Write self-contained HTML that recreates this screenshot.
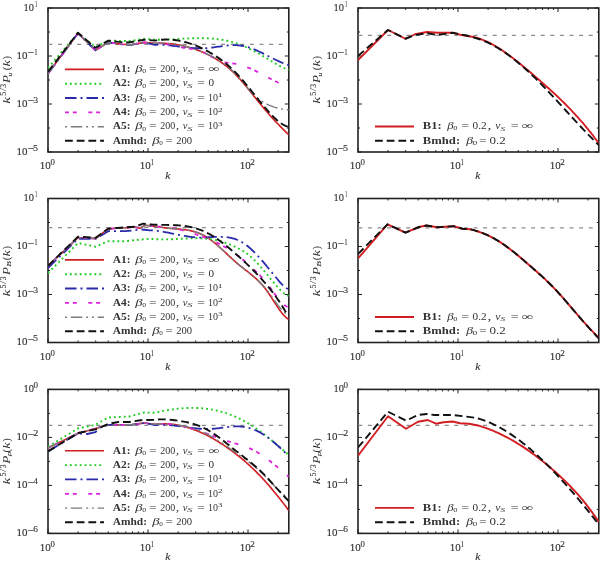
<!DOCTYPE html><html><head><meta charset="utf-8"><style>
html,body{margin:0;padding:0;background:#fff;width:600px;height:563px;overflow:hidden}
svg{display:block;will-change:transform}
text{font-family:"Liberation Serif",serif;fill:#333333}
.tl{font-size:10px}
.ml{font-size:10.5px;font-style:italic}
.lb{font-size:9px;font-weight:bold;fill:#222;letter-spacing:0.6px}
.lm{font-size:9.5px;font-style:italic;fill:#555}
.lr{font-size:9.5px;fill:#444}
.ls{font-size:6.5px;fill:#555}
</style></head><body>
<svg width="600" height="563" viewBox="0 0 600 563">
<path d="M48,152 v-4 M48,8 v4 M78.1,152 v-2 M78.1,8 v2 M95.71,152 v-2 M95.71,8 v2 M108.21,152 v-2 M108.21,8 v2 M117.9,152 v-2 M117.9,8 v2 M125.82,152 v-2 M125.82,8 v2 M132.51,152 v-2 M132.51,8 v2 M138.31,152 v-2 M138.31,8 v2 M143.42,152 v-2 M143.42,8 v2 M148,152 v-4 M148,8 v4 M178.1,152 v-2 M178.1,8 v2 M195.71,152 v-2 M195.71,8 v2 M208.21,152 v-2 M208.21,8 v2 M217.9,152 v-2 M217.9,8 v2 M225.82,152 v-2 M225.82,8 v2 M232.51,152 v-2 M232.51,8 v2 M238.31,152 v-2 M238.31,8 v2 M243.42,152 v-2 M243.42,8 v2 M248,152 v-4 M248,8 v4 M278.1,152 v-2 M278.1,8 v2 M48,8 h4 M288.8,8 h-4 M48,32 h2 M288.8,32 h-2 M48,56 h4 M288.8,56 h-4 M48,80 h2 M288.8,80 h-2 M48,104 h4 M288.8,104 h-4 M48,128 h2 M288.8,128 h-2 M48,152 h4 M288.8,152 h-4" stroke="#222222" stroke-width="1" fill="none"/>
<rect x="48" y="8" width="240.8" height="144" fill="none" stroke="#222222" stroke-width="1.6"/>
<text x="39.77" y="169.3" font-size="10.2" fill="#333333" stroke="#333333" stroke-width="0.12" textLength="10.97" lengthAdjust="spacingAndGlyphs">10</text>
<text x="50.45" y="165.3" font-size="7.4" fill="#333333" stroke="#333333" stroke-width="0.1" textLength="4.4" lengthAdjust="spacingAndGlyphs">0</text>
<text x="139.77" y="169.3" font-size="10.2" fill="#333333" stroke="#333333" stroke-width="0.12" textLength="10.97" lengthAdjust="spacingAndGlyphs">10</text>
<text x="150.85" y="165.3" font-size="7.4" fill="#333333" stroke="#333333" stroke-width="0.1" textLength="3.24" lengthAdjust="spacingAndGlyphs">1</text>
<text x="239.77" y="169.3" font-size="10.2" fill="#333333" stroke="#333333" stroke-width="0.12" textLength="10.97" lengthAdjust="spacingAndGlyphs">10</text>
<text x="250.38" y="165.3" font-size="7.4" fill="#333333" stroke="#333333" stroke-width="0.1" textLength="4.62" lengthAdjust="spacingAndGlyphs">2</text>
<text x="165.25" y="179" font-size="9.8" font-style="italic" fill="#333333" stroke="#333333" stroke-width="0.1" textLength="5.16" lengthAdjust="spacingAndGlyphs">k</text>
<text x="23.52" y="10.7" font-size="10.2" fill="#333333" stroke="#333333" stroke-width="0.12" textLength="10.4" lengthAdjust="spacingAndGlyphs">10</text>
<text x="34.92" y="6.7" font-size="7.2" fill="#333333" stroke="#333333" stroke-width="0.1" textLength="2.25" lengthAdjust="spacingAndGlyphs">1</text>
<text x="16.57" y="58.8" font-size="10.2" fill="#333333" stroke="#333333" stroke-width="0.12" textLength="10.97" lengthAdjust="spacingAndGlyphs">10</text>
<text x="27.55" y="55.4" font-size="7.2" fill="#333333" stroke="#333333" stroke-width="0.3" textLength="6.19" lengthAdjust="spacingAndGlyphs">&#8722;</text>
<text x="34.23" y="54.9" font-size="7.2" fill="#333333" stroke="#333333" stroke-width="0.1" textLength="3.38" lengthAdjust="spacingAndGlyphs">1</text>
<text x="16.57" y="106.8" font-size="10.2" fill="#333333" stroke="#333333" stroke-width="0.12" textLength="10.97" lengthAdjust="spacingAndGlyphs">10</text>
<text x="27.55" y="103.4" font-size="7.2" fill="#333333" stroke="#333333" stroke-width="0.3" textLength="6.19" lengthAdjust="spacingAndGlyphs">&#8722;</text>
<text x="33.27" y="102.9" font-size="7.2" fill="#333333" stroke="#333333" stroke-width="0.1" textLength="4.82" lengthAdjust="spacingAndGlyphs">3</text>
<text x="16.57" y="154.8" font-size="10.2" fill="#333333" stroke="#333333" stroke-width="0.12" textLength="10.97" lengthAdjust="spacingAndGlyphs">10</text>
<text x="27.55" y="151.4" font-size="7.2" fill="#333333" stroke="#333333" stroke-width="0.3" textLength="6.19" lengthAdjust="spacingAndGlyphs">&#8722;</text>
<text x="33.1" y="150.9" font-size="7.2" fill="#333333" stroke="#333333" stroke-width="0.1" textLength="5" lengthAdjust="spacingAndGlyphs">5</text>
<text transform="translate(10,80) rotate(-90)" x="-23.76" y="0" font-size="9.4" font-style="italic" fill="#333333" textLength="6.81" lengthAdjust="spacingAndGlyphs">k</text>
<text transform="translate(10,80) rotate(-90)" x="-15.78" y="-3.6" font-size="7.2" fill="#333333" stroke="#333333" stroke-width="0.1" textLength="4" lengthAdjust="spacingAndGlyphs">5</text>
<text transform="translate(10,80) rotate(-90)" x="-11.3" y="-3.6" font-size="7.2" fill="#333333" stroke="#333333" stroke-width="0.05" textLength="3.23" lengthAdjust="spacingAndGlyphs">/</text>
<text transform="translate(10,80) rotate(-90)" x="-7.65" y="-3.6" font-size="7.2" fill="#333333" stroke="#333333" stroke-width="0.1" textLength="3.86" lengthAdjust="spacingAndGlyphs">3</text>
<text transform="translate(10,80) rotate(-90)" x="-2.93" y="0" font-size="9.4" font-style="italic" fill="#333333" textLength="7.97" lengthAdjust="spacingAndGlyphs">P</text>
<text transform="translate(10,80) rotate(-90)" x="3.51" y="1.7" font-size="6" font-style="italic" fill="#333333" stroke="#333333" stroke-width="0.1" textLength="3.86" lengthAdjust="spacingAndGlyphs">u</text>
<text transform="translate(10,80) rotate(-90)" x="9.81" y="0" font-size="9.6" fill="#333333" textLength="3.66" lengthAdjust="spacingAndGlyphs">(</text>
<text transform="translate(10,80) rotate(-90)" x="13.47" y="0" font-size="9.4" font-style="italic" fill="#333333" textLength="6.4" lengthAdjust="spacingAndGlyphs">k</text>
<text transform="translate(10,80) rotate(-90)" x="20.48" y="0" font-size="9.6" fill="#333333" textLength="3.59" lengthAdjust="spacingAndGlyphs">)</text>
<path d="M48.3,44.4 H287.8" stroke="#8c8c8c" stroke-width="1.3" stroke-dasharray="4,5.6"/>
<clipPath id="cp0"><rect x="48" y="8" width="240.8" height="144"/></clipPath>
<g clip-path="url(#cp0)">
<path d="M48,73.6 L78,33.3 L95.5,50.3 L108.3,42.4 L122,44.3 L131.2,44.8 L144,42.4 L155,43.3 L156.5,43.26 L158,43.24 L159.5,43.23 L161,43.25 L162.5,43.28 L164,43.34 L165.5,43.41 L167,43.51 L168.5,43.62 L170,43.75 L171.5,43.91 L173,44.08 L174.5,44.28 L176,44.5 L177.5,44.74 L179,45 L180.5,45.28 L182,45.59 L183.5,45.91 L185,46.26 L186.5,46.63 L188,47.03 L189.5,47.45 L191,47.89 L192.5,48.35 L194,48.84 L195.5,49.36 L197,49.89 L198.5,50.45 L200,51.04 L201.5,51.65 L203,52.29 L204.5,52.95 L206,53.64 L207.5,54.35 L209,55.1 L210.5,55.87 L212,56.67 L213.5,57.5 L215,58.37 L216.5,59.27 L218,60.21 L219.5,61.19 L221,62.21 L222.5,63.27 L224,64.37 L225.5,65.52 L227,66.71 L228.5,67.95 L230,69.24 L231.5,70.58 L233,71.98 L234.5,73.42 L236,74.92 L237.5,76.48 L239,78.1 L240.5,79.77 L242,81.48 L243.5,83.24 L245,85.03 L246.5,86.85 L248,88.69 L249.5,90.56 L251,92.43 L252.5,94.31 L254,96.18 L255.5,98.06 L257,99.92 L258.5,101.77 L260,103.6 L261.5,105.42 L263,107.22 L264.5,109.01 L266,110.77 L267.5,112.52 L269,114.24 L270.5,115.94 L272,117.61 L273.5,119.26 L275,120.88 L276.5,122.48 L278,124.06 L279.5,125.61 L281,127.15 L282.5,128.66 L284,130.15 L285.5,131.63 L287,133.08 L288.5,134.52 L288.8,134.81" fill="none" stroke="#d21e23" stroke-width="1.6" stroke-linecap="butt" stroke-linejoin="round"/>
<path d="M48,68 L78,33.3 L95.5,47 L108.3,40.6 L122,41 L131,41 L144,38.8 L155,39.7 L156.5,39.7 L158,39.69 L159.5,39.68 L161,39.65 L162.5,39.62 L164,39.58 L165.5,39.53 L167,39.47 L168.5,39.41 L170,39.34 L171.5,39.27 L173,39.19 L174.5,39.12 L176,39.04 L177.5,38.96 L179,38.88 L180.5,38.8 L182,38.72 L183.5,38.64 L185,38.57 L186.5,38.5 L188,38.43 L189.5,38.37 L191,38.31 L192.5,38.27 L194,38.22 L195.5,38.19 L197,38.17 L198.5,38.15 L200,38.15 L201.5,38.16 L203,38.18 L204.5,38.21 L206,38.25 L207.5,38.31 L209,38.39 L210.5,38.48 L212,38.59 L213.5,38.71 L215,38.85 L216.5,39.02 L218,39.2 L219.5,39.4 L221,39.62 L222.5,39.87 L224,40.14 L225.5,40.43 L227,40.75 L228.5,41.09 L230,41.45 L231.5,41.85 L233,42.27 L234.5,42.72 L236,43.2 L237.5,43.7 L239,44.24 L240.5,44.81 L242,45.4 L243.5,46.03 L245,46.68 L246.5,47.35 L248,48.05 L249.5,48.77 L251,49.51 L252.5,50.28 L254,51.06 L255.5,51.86 L257,52.68 L258.5,53.52 L260,54.37 L261.5,55.23 L263,56.11 L264.5,57 L266,57.9 L267.5,58.8 L269,59.72 L270.5,60.63 L272,61.54 L273.5,62.45 L275,63.34 L276.5,64.21 L278,65.06 L279.5,65.88 L281,66.67 L282.5,67.42 L284,68.13 L285.5,68.79 L287,69.41 L288.5,69.96 L288.8,70.07" fill="none" stroke="#22cc22" stroke-width="1.9" stroke-dasharray="1.9,3" stroke-linecap="butt" stroke-linejoin="round"/>
<path d="M48,73.6 L78,33.3 L95.5,50.3 L108.3,42.4 L122,44.3 L131.2,44.8 L144,42.4 L155,44.8 L156.5,44.73 L158,44.7 L159.5,44.7 L161,44.74 L162.5,44.8 L164,44.9 L165.5,45.01 L167,45.15 L168.5,45.3 L170,45.47 L171.5,45.65 L173,45.84 L174.5,46.03 L176,46.23 L177.5,46.43 L179,46.62 L180.5,46.81 L182,47 L183.5,47.18 L185,47.35 L186.5,47.51 L188,47.66 L189.5,47.8 L191,47.92 L192.5,48.03 L194,48.12 L195.5,48.2 L197,48.26 L198.5,48.29 L200,48.31 L201.5,48.3 L203,48.27 L204.5,48.21 L206,48.12 L207.5,48.01 L209,47.87 L210.5,47.71 L212,47.53 L213.5,47.34 L215,47.14 L216.5,46.94 L218,46.73 L219.5,46.52 L221,46.31 L222.5,46.11 L224,45.92 L225.5,45.75 L227,45.59 L228.5,45.45 L230,45.34 L231.5,45.26 L233,45.2 L234.5,45.19 L236,45.21 L237.5,45.27 L239,45.38 L240.5,45.54 L242,45.75 L243.5,46.01 L245,46.34 L246.5,46.71 L248,47.14 L249.5,47.61 L251,48.13 L252.5,48.69 L254,49.28 L255.5,49.91 L257,50.56 L258.5,51.24 L260,51.95 L261.5,52.67 L263,53.41 L264.5,54.16 L266,54.92 L267.5,55.69 L269,56.46 L270.5,57.23 L272,57.99 L273.5,58.74 L275,59.48 L276.5,60.21 L278,60.92 L279.5,61.6 L281,62.26 L282.5,62.89 L284,63.49 L285.5,64.06 L287,64.58 L288.5,65.06 L288.8,65.15" fill="none" stroke="#2a2aaa" stroke-width="1.8" stroke-dasharray="11.5,4,2,4" stroke-linecap="butt" stroke-linejoin="round"/>
<path d="M48,73.6 L78,33.3 L95.5,50.3 L108.3,42.4 L122,44.3 L131.2,44.8 L144,42.4 L155,43.3 L156.5,43.23 L158,43.23 L159.5,43.28 L161,43.39 L162.5,43.54 L164,43.74 L165.5,43.98 L167,44.24 L168.5,44.53 L170,44.85 L171.5,45.18 L173,45.52 L174.5,45.86 L176,46.21 L177.5,46.55 L179,46.88 L180.5,47.19 L182,47.48 L183.5,47.74 L185,47.98 L186.5,48.2 L188,48.4 L189.5,48.61 L191,48.82 L192.5,49.05 L194,49.32 L195.5,49.61 L197,49.96 L198.5,50.36 L200,50.84 L201.5,51.38 L203,52.02 L204.5,52.74 L206,53.55 L207.5,54.4 L209,55.27 L210.5,56.14 L212,56.98 L213.5,57.78 L215,58.52 L216.5,59.23 L218,59.88 L219.5,60.48 L221,61.03 L222.5,61.53 L224,61.96 L225.5,62.34 L227,62.66 L228.5,62.92 L230,63.13 L231.5,63.32 L233,63.51 L234.5,63.72 L236,63.97 L237.5,64.26 L239,64.61 L240.5,65 L242,65.43 L243.5,65.9 L245,66.42 L246.5,66.97 L248,67.55 L249.5,68.17 L251,68.81 L252.5,69.48 L254,70.18 L255.5,70.89 L257,71.63 L258.5,72.39 L260,73.15 L261.5,73.94 L263,74.73 L264.5,75.53 L266,76.33 L267.5,77.14 L269,77.94 L270.5,78.75 L272,79.54 L273.5,80.32 L275,81.07 L276.5,81.79 L278,82.47 L279.5,83.09 L281,83.66 L282.5,84.15 L284,84.57 L285.5,84.91 L287,85.14 L288.5,85.28 L288.8,85.3" fill="none" stroke="#dd22dd" stroke-width="1.8" stroke-dasharray="4,3.8,4,11.5" stroke-linecap="butt" stroke-linejoin="round"/>
<path d="M48,73.6 L78,33.3 L95.5,50.3 L108.3,42.4 L122,44.3 L131.2,44.8 L144,42.4 L155,43.3 L156.5,43.22 L158,43.16 L159.5,43.13 L161,43.12 L162.5,43.14 L164,43.18 L165.5,43.25 L167,43.34 L168.5,43.46 L170,43.6 L171.5,43.76 L173,43.94 L174.5,44.15 L176,44.38 L177.5,44.64 L179,44.92 L180.5,45.22 L182,45.54 L183.5,45.88 L185,46.25 L186.5,46.64 L188,47.04 L189.5,47.48 L191,47.93 L192.5,48.4 L194,48.89 L195.5,49.41 L197,49.94 L198.5,50.5 L200,51.07 L201.5,51.67 L203,52.28 L204.5,52.92 L206,53.57 L207.5,54.25 L209,54.94 L210.5,55.66 L212,56.41 L213.5,57.19 L215,58 L216.5,58.85 L218,59.74 L219.5,60.67 L221,61.64 L222.5,62.65 L224,63.72 L225.5,64.83 L227,66 L228.5,67.23 L230,68.52 L231.5,69.86 L233,71.27 L234.5,72.75 L236,74.3 L237.5,75.92 L239,77.61 L240.5,79.37 L242,81.16 L243.5,82.98 L245,84.8 L246.5,86.62 L248,88.41 L249.5,90.16 L251,91.84 L252.5,93.45 L254,94.96 L255.5,96.36 L257,97.65 L258.5,98.83 L260,99.92 L261.5,100.93 L263,101.87 L264.5,102.75 L266,103.57 L267.5,104.34 L269,105.05 L270.5,105.7 L272,106.3 L273.5,106.85 L275,107.35 L276.5,107.79 L278,108.2 L279.5,108.55 L281,108.86 L282.5,109.13 L284,109.36 L285.5,109.54 L287,109.69 L288.5,109.8 L288.8,109.81" fill="none" stroke="#7c7c7c" stroke-width="1.45" stroke-dasharray="11.5,3.8,2,3.8,2,3.8" stroke-linecap="butt" stroke-linejoin="round"/>
<path d="M48,71.8 L78,32.7 L95.5,47.9 L108.3,40.6 L118.4,41.9 L129.4,42.4 L144,39.7 L155,40.6 L156.5,40.35 L158,40.13 L159.5,39.95 L161,39.8 L162.5,39.69 L164,39.61 L165.5,39.57 L167,39.56 L168.5,39.58 L170,39.64 L171.5,39.73 L173,39.86 L174.5,40.01 L176,40.2 L177.5,40.43 L179,40.68 L180.5,40.96 L182,41.28 L183.5,41.62 L185,42 L186.5,42.41 L188,42.85 L189.5,43.31 L191,43.81 L192.5,44.34 L194,44.89 L195.5,45.47 L197,46.09 L198.5,46.72 L200,47.39 L201.5,48.09 L203,48.81 L204.5,49.56 L206,50.33 L207.5,51.13 L209,51.96 L210.5,52.82 L212,53.71 L213.5,54.63 L215,55.58 L216.5,56.57 L218,57.59 L219.5,58.64 L221,59.74 L222.5,60.87 L224,62.03 L225.5,63.24 L227,64.49 L228.5,65.79 L230,67.12 L231.5,68.5 L233,69.93 L234.5,71.4 L236,72.93 L237.5,74.5 L239,76.12 L240.5,77.78 L242,79.49 L243.5,81.24 L245,83.02 L246.5,84.82 L248,86.65 L249.5,88.5 L251,90.36 L252.5,92.23 L254,94.11 L255.5,95.98 L257,97.85 L258.5,99.72 L260,101.57 L261.5,103.4 L263,105.21 L264.5,106.99 L266,108.74 L267.5,110.46 L269,112.13 L270.5,113.76 L272,115.34 L273.5,116.86 L275,118.32 L276.5,119.71 L278,121.01 L279.5,122.21 L281,123.3 L282.5,124.28 L284,125.12 L285.5,125.82 L287,126.36 L288.5,126.74 L288.8,126.8" fill="none" stroke="#111111" stroke-width="1.9" stroke-dasharray="7.8,3.9" stroke-linecap="butt" stroke-linejoin="round"/>
</g>
<path d="M65,69.4 h39" fill="none" stroke="#d21e23" stroke-width="1.6"/>
<path d="M65,83.7 h39" fill="none" stroke="#22cc22" stroke-width="1.9" stroke-dasharray="1.9,3"/>
<path d="M65,98 h39" fill="none" stroke="#2a2aaa" stroke-width="1.8" stroke-dasharray="11.5,4,2,4"/>
<path d="M65,112.4 h39" fill="none" stroke="#dd22dd" stroke-width="1.8" stroke-dasharray="4,3.8,4,11.5"/>
<path d="M65,126.7 h39" fill="none" stroke="#7c7c7c" stroke-width="1.45" stroke-dasharray="11.5,3.8,2,3.8,2,3.8" stroke-dashoffset="21.1"/>
<path d="M65,140.8 h39" fill="none" stroke="#111111" stroke-width="1.9" stroke-dasharray="7.8,3.9"/>
<text x="112.79" y="72.1" font-size="9.7" font-weight="bold" fill="#2a2a2a" textLength="17.85" lengthAdjust="spacingAndGlyphs">A1:</text>
<text x="135.22" y="72.1" font-size="9.3" font-style="italic" fill="#6c6c6c" textLength="7.32" lengthAdjust="spacingAndGlyphs">&#946;</text>
<text x="142.19" y="73.3" font-size="6.3" fill="#505050" textLength="3.93" lengthAdjust="spacingAndGlyphs">0</text>
<text x="148.93" y="72.1" font-size="9.3" fill="#505050" textLength="7.52" lengthAdjust="spacingAndGlyphs">=</text>
<text x="160.35" y="72.1" font-size="9.3" fill="#505050" textLength="15.05" lengthAdjust="spacingAndGlyphs">200</text>
<text x="175.68" y="72.1" font-size="9.3" fill="#505050" textLength="3.53" lengthAdjust="spacingAndGlyphs">,</text>
<text x="182.74" y="72.1" font-size="9.3" font-style="italic" fill="#6c6c6c" textLength="4.75" lengthAdjust="spacingAndGlyphs">&#957;</text>
<text x="187.39" y="73.5" font-size="6.9" font-style="italic" fill="#606060" textLength="5.26" lengthAdjust="spacingAndGlyphs">S</text>
<text x="197.22" y="72.1" font-size="9.3" fill="#505050" textLength="7.64" lengthAdjust="spacingAndGlyphs">=</text>
<text x="208.2" y="72.1" font-size="9.9" fill="#505050" textLength="11.14" lengthAdjust="spacingAndGlyphs">&#8734;</text>
<text x="112.79" y="86.4" font-size="9.7" font-weight="bold" fill="#2a2a2a" textLength="17.85" lengthAdjust="spacingAndGlyphs">A2:</text>
<text x="135.22" y="86.4" font-size="9.3" font-style="italic" fill="#6c6c6c" textLength="7.32" lengthAdjust="spacingAndGlyphs">&#946;</text>
<text x="142.19" y="87.6" font-size="6.3" fill="#505050" textLength="3.93" lengthAdjust="spacingAndGlyphs">0</text>
<text x="148.93" y="86.4" font-size="9.3" fill="#505050" textLength="7.52" lengthAdjust="spacingAndGlyphs">=</text>
<text x="160.35" y="86.4" font-size="9.3" fill="#505050" textLength="15.05" lengthAdjust="spacingAndGlyphs">200</text>
<text x="175.68" y="86.4" font-size="9.3" fill="#505050" textLength="3.53" lengthAdjust="spacingAndGlyphs">,</text>
<text x="182.74" y="86.4" font-size="9.3" font-style="italic" fill="#6c6c6c" textLength="4.75" lengthAdjust="spacingAndGlyphs">&#957;</text>
<text x="187.39" y="87.8" font-size="6.9" font-style="italic" fill="#606060" textLength="5.26" lengthAdjust="spacingAndGlyphs">S</text>
<text x="197.22" y="86.4" font-size="9.3" fill="#505050" textLength="7.64" lengthAdjust="spacingAndGlyphs">=</text>
<text x="208.55" y="86.4" font-size="9.3" fill="#505050" textLength="5.6" lengthAdjust="spacingAndGlyphs">0</text>
<text x="112.79" y="100.7" font-size="9.7" font-weight="bold" fill="#2a2a2a" textLength="17.85" lengthAdjust="spacingAndGlyphs">A3:</text>
<text x="135.22" y="100.7" font-size="9.3" font-style="italic" fill="#6c6c6c" textLength="7.32" lengthAdjust="spacingAndGlyphs">&#946;</text>
<text x="142.19" y="101.9" font-size="6.3" fill="#505050" textLength="3.93" lengthAdjust="spacingAndGlyphs">0</text>
<text x="148.93" y="100.7" font-size="9.3" fill="#505050" textLength="7.52" lengthAdjust="spacingAndGlyphs">=</text>
<text x="160.35" y="100.7" font-size="9.3" fill="#505050" textLength="15.05" lengthAdjust="spacingAndGlyphs">200</text>
<text x="175.68" y="100.7" font-size="9.3" fill="#505050" textLength="3.53" lengthAdjust="spacingAndGlyphs">,</text>
<text x="182.74" y="100.7" font-size="9.3" font-style="italic" fill="#6c6c6c" textLength="4.75" lengthAdjust="spacingAndGlyphs">&#957;</text>
<text x="187.39" y="102.1" font-size="6.9" font-style="italic" fill="#606060" textLength="5.26" lengthAdjust="spacingAndGlyphs">S</text>
<text x="197.22" y="100.7" font-size="9.3" fill="#505050" textLength="7.64" lengthAdjust="spacingAndGlyphs">=</text>
<text x="207.9" y="100.7" font-size="9.3" fill="#505050" textLength="10" lengthAdjust="spacingAndGlyphs">10</text>
<text x="217.61" y="97.1" font-size="6.6" fill="#505050" textLength="5.21" lengthAdjust="spacingAndGlyphs">1</text>
<text x="112.79" y="115.1" font-size="9.7" font-weight="bold" fill="#2a2a2a" textLength="17.85" lengthAdjust="spacingAndGlyphs">A4:</text>
<text x="135.22" y="115.1" font-size="9.3" font-style="italic" fill="#6c6c6c" textLength="7.32" lengthAdjust="spacingAndGlyphs">&#946;</text>
<text x="142.19" y="116.3" font-size="6.3" fill="#505050" textLength="3.93" lengthAdjust="spacingAndGlyphs">0</text>
<text x="148.93" y="115.1" font-size="9.3" fill="#505050" textLength="7.52" lengthAdjust="spacingAndGlyphs">=</text>
<text x="160.35" y="115.1" font-size="9.3" fill="#505050" textLength="15.05" lengthAdjust="spacingAndGlyphs">200</text>
<text x="175.68" y="115.1" font-size="9.3" fill="#505050" textLength="3.53" lengthAdjust="spacingAndGlyphs">,</text>
<text x="182.74" y="115.1" font-size="9.3" font-style="italic" fill="#6c6c6c" textLength="4.75" lengthAdjust="spacingAndGlyphs">&#957;</text>
<text x="187.39" y="116.5" font-size="6.9" font-style="italic" fill="#606060" textLength="5.26" lengthAdjust="spacingAndGlyphs">S</text>
<text x="197.22" y="115.1" font-size="9.3" fill="#505050" textLength="7.64" lengthAdjust="spacingAndGlyphs">=</text>
<text x="207.9" y="115.1" font-size="9.3" fill="#505050" textLength="10" lengthAdjust="spacingAndGlyphs">10</text>
<text x="218.08" y="111.5" font-size="6.6" fill="#505050" textLength="4.62" lengthAdjust="spacingAndGlyphs">2</text>
<text x="112.79" y="129.4" font-size="9.7" font-weight="bold" fill="#2a2a2a" textLength="17.85" lengthAdjust="spacingAndGlyphs">A5:</text>
<text x="135.22" y="129.4" font-size="9.3" font-style="italic" fill="#6c6c6c" textLength="7.32" lengthAdjust="spacingAndGlyphs">&#946;</text>
<text x="142.19" y="130.6" font-size="6.3" fill="#505050" textLength="3.93" lengthAdjust="spacingAndGlyphs">0</text>
<text x="148.93" y="129.4" font-size="9.3" fill="#505050" textLength="7.52" lengthAdjust="spacingAndGlyphs">=</text>
<text x="160.35" y="129.4" font-size="9.3" fill="#505050" textLength="15.05" lengthAdjust="spacingAndGlyphs">200</text>
<text x="175.68" y="129.4" font-size="9.3" fill="#505050" textLength="3.53" lengthAdjust="spacingAndGlyphs">,</text>
<text x="182.74" y="129.4" font-size="9.3" font-style="italic" fill="#6c6c6c" textLength="4.75" lengthAdjust="spacingAndGlyphs">&#957;</text>
<text x="187.39" y="130.8" font-size="6.9" font-style="italic" fill="#606060" textLength="5.26" lengthAdjust="spacingAndGlyphs">S</text>
<text x="197.22" y="129.4" font-size="9.3" fill="#505050" textLength="7.64" lengthAdjust="spacingAndGlyphs">=</text>
<text x="207.9" y="129.4" font-size="9.3" fill="#505050" textLength="10" lengthAdjust="spacingAndGlyphs">10</text>
<text x="218.1" y="125.8" font-size="6.6" fill="#505050" textLength="4.46" lengthAdjust="spacingAndGlyphs">3</text>
<text x="112.79" y="143.5" font-size="9.7" font-weight="bold" fill="#2a2a2a" textLength="34.19" lengthAdjust="spacingAndGlyphs">Amhd:</text>
<text x="152.22" y="143.5" font-size="9.3" font-style="italic" fill="#6c6c6c" textLength="7.32" lengthAdjust="spacingAndGlyphs">&#946;</text>
<text x="159.21" y="144.7" font-size="6.3" fill="#505050" textLength="3.57" lengthAdjust="spacingAndGlyphs">0</text>
<text x="165.55" y="143.5" font-size="9.3" fill="#505050" textLength="7.28" lengthAdjust="spacingAndGlyphs">=</text>
<text x="176.22" y="143.5" font-size="9.3" fill="#505050" textLength="15.9" lengthAdjust="spacingAndGlyphs">200</text>
<path d="M358,152 v-4 M358,8 v4 M388.1,152 v-2 M388.1,8 v2 M405.71,152 v-2 M405.71,8 v2 M418.21,152 v-2 M418.21,8 v2 M427.9,152 v-2 M427.9,8 v2 M435.82,152 v-2 M435.82,8 v2 M442.51,152 v-2 M442.51,8 v2 M448.31,152 v-2 M448.31,8 v2 M453.42,152 v-2 M453.42,8 v2 M458,152 v-4 M458,8 v4 M488.1,152 v-2 M488.1,8 v2 M505.71,152 v-2 M505.71,8 v2 M518.21,152 v-2 M518.21,8 v2 M527.9,152 v-2 M527.9,8 v2 M535.82,152 v-2 M535.82,8 v2 M542.51,152 v-2 M542.51,8 v2 M548.31,152 v-2 M548.31,8 v2 M553.42,152 v-2 M553.42,8 v2 M558,152 v-4 M558,8 v4 M588.1,152 v-2 M588.1,8 v2 M358,8 h4 M598.8,8 h-4 M358,32 h2 M598.8,32 h-2 M358,56 h4 M598.8,56 h-4 M358,80 h2 M598.8,80 h-2 M358,104 h4 M598.8,104 h-4 M358,128 h2 M598.8,128 h-2 M358,152 h4 M598.8,152 h-4" stroke="#222222" stroke-width="1" fill="none"/>
<rect x="358" y="8" width="240.8" height="144" fill="none" stroke="#222222" stroke-width="1.6"/>
<text x="349.77" y="169.3" font-size="10.2" fill="#333333" stroke="#333333" stroke-width="0.12" textLength="10.97" lengthAdjust="spacingAndGlyphs">10</text>
<text x="360.45" y="165.3" font-size="7.4" fill="#333333" stroke="#333333" stroke-width="0.1" textLength="4.4" lengthAdjust="spacingAndGlyphs">0</text>
<text x="449.77" y="169.3" font-size="10.2" fill="#333333" stroke="#333333" stroke-width="0.12" textLength="10.97" lengthAdjust="spacingAndGlyphs">10</text>
<text x="460.85" y="165.3" font-size="7.4" fill="#333333" stroke="#333333" stroke-width="0.1" textLength="3.24" lengthAdjust="spacingAndGlyphs">1</text>
<text x="549.77" y="169.3" font-size="10.2" fill="#333333" stroke="#333333" stroke-width="0.12" textLength="10.97" lengthAdjust="spacingAndGlyphs">10</text>
<text x="560.38" y="165.3" font-size="7.4" fill="#333333" stroke="#333333" stroke-width="0.1" textLength="4.63" lengthAdjust="spacingAndGlyphs">2</text>
<text x="475.25" y="179" font-size="9.8" font-style="italic" fill="#333333" stroke="#333333" stroke-width="0.1" textLength="5.16" lengthAdjust="spacingAndGlyphs">k</text>
<text x="333.52" y="10.7" font-size="10.2" fill="#333333" stroke="#333333" stroke-width="0.12" textLength="10.4" lengthAdjust="spacingAndGlyphs">10</text>
<text x="344.92" y="6.7" font-size="7.2" fill="#333333" stroke="#333333" stroke-width="0.1" textLength="2.25" lengthAdjust="spacingAndGlyphs">1</text>
<text x="326.57" y="58.8" font-size="10.2" fill="#333333" stroke="#333333" stroke-width="0.12" textLength="10.97" lengthAdjust="spacingAndGlyphs">10</text>
<text x="337.55" y="55.4" font-size="7.2" fill="#333333" stroke="#333333" stroke-width="0.3" textLength="6.19" lengthAdjust="spacingAndGlyphs">&#8722;</text>
<text x="344.23" y="54.9" font-size="7.2" fill="#333333" stroke="#333333" stroke-width="0.1" textLength="3.38" lengthAdjust="spacingAndGlyphs">1</text>
<text x="326.57" y="106.8" font-size="10.2" fill="#333333" stroke="#333333" stroke-width="0.12" textLength="10.97" lengthAdjust="spacingAndGlyphs">10</text>
<text x="337.55" y="103.4" font-size="7.2" fill="#333333" stroke="#333333" stroke-width="0.3" textLength="6.19" lengthAdjust="spacingAndGlyphs">&#8722;</text>
<text x="343.27" y="102.9" font-size="7.2" fill="#333333" stroke="#333333" stroke-width="0.1" textLength="4.82" lengthAdjust="spacingAndGlyphs">3</text>
<text x="326.57" y="154.8" font-size="10.2" fill="#333333" stroke="#333333" stroke-width="0.12" textLength="10.97" lengthAdjust="spacingAndGlyphs">10</text>
<text x="337.55" y="151.4" font-size="7.2" fill="#333333" stroke="#333333" stroke-width="0.3" textLength="6.19" lengthAdjust="spacingAndGlyphs">&#8722;</text>
<text x="343.1" y="150.9" font-size="7.2" fill="#333333" stroke="#333333" stroke-width="0.1" textLength="5" lengthAdjust="spacingAndGlyphs">5</text>
<text transform="translate(320,80) rotate(-90)" x="-23.76" y="0" font-size="9.4" font-style="italic" fill="#333333" textLength="6.81" lengthAdjust="spacingAndGlyphs">k</text>
<text transform="translate(320,80) rotate(-90)" x="-15.78" y="-3.6" font-size="7.2" fill="#333333" stroke="#333333" stroke-width="0.1" textLength="4" lengthAdjust="spacingAndGlyphs">5</text>
<text transform="translate(320,80) rotate(-90)" x="-11.3" y="-3.6" font-size="7.2" fill="#333333" stroke="#333333" stroke-width="0.05" textLength="3.23" lengthAdjust="spacingAndGlyphs">/</text>
<text transform="translate(320,80) rotate(-90)" x="-7.65" y="-3.6" font-size="7.2" fill="#333333" stroke="#333333" stroke-width="0.1" textLength="3.86" lengthAdjust="spacingAndGlyphs">3</text>
<text transform="translate(320,80) rotate(-90)" x="-2.93" y="0" font-size="9.4" font-style="italic" fill="#333333" textLength="7.97" lengthAdjust="spacingAndGlyphs">P</text>
<text transform="translate(320,80) rotate(-90)" x="3.51" y="1.7" font-size="6" font-style="italic" fill="#333333" stroke="#333333" stroke-width="0.1" textLength="3.86" lengthAdjust="spacingAndGlyphs">u</text>
<text transform="translate(320,80) rotate(-90)" x="9.81" y="0" font-size="9.6" fill="#333333" textLength="3.66" lengthAdjust="spacingAndGlyphs">(</text>
<text transform="translate(320,80) rotate(-90)" x="13.47" y="0" font-size="9.4" font-style="italic" fill="#333333" textLength="6.4" lengthAdjust="spacingAndGlyphs">k</text>
<text transform="translate(320,80) rotate(-90)" x="20.48" y="0" font-size="9.6" fill="#333333" textLength="3.59" lengthAdjust="spacingAndGlyphs">)</text>
<path d="M358.3,35.3 H597.8" stroke="#8c8c8c" stroke-width="1.3" stroke-dasharray="4,5.6"/>
<clipPath id="cp1"><rect x="358" y="8" width="240.8" height="144"/></clipPath>
<g clip-path="url(#cp1)">
<path d="M358,60.2 L388,30 L405.5,38.75 L415,34.25 L427,32 L437.5,32.75 L452.5,32.75 L460,34.7 L470.5,36.5 L472,36.74 L473.5,37.04 L475,37.38 L476.5,37.77 L478,38.2 L479.5,38.68 L481,39.21 L482.5,39.77 L484,40.38 L485.5,41.02 L487,41.7 L488.5,42.42 L490,43.18 L491.5,43.96 L493,44.78 L494.5,45.63 L496,46.52 L497.5,47.42 L499,48.36 L500.5,49.32 L502,50.31 L503.5,51.32 L505,52.35 L506.5,53.41 L508,54.49 L509.5,55.59 L511,56.7 L512.5,57.84 L514,58.99 L515.5,60.16 L517,61.35 L518.5,62.55 L520,63.76 L521.5,64.99 L523,66.22 L524.5,67.47 L526,68.73 L527.5,70 L529,71.27 L530.5,72.55 L532,73.84 L533.5,75.13 L535,76.43 L536.5,77.72 L538,79.03 L539.5,80.33 L541,81.64 L542.5,82.95 L544,84.26 L545.5,85.59 L547,86.92 L548.5,88.26 L550,89.6 L551.5,90.96 L553,92.33 L554.5,93.71 L556,95.1 L557.5,96.51 L559,97.93 L560.5,99.37 L562,100.83 L563.5,102.3 L565,103.79 L566.5,105.3 L568,106.82 L569.5,108.37 L571,109.94 L572.5,111.53 L574,113.14 L575.5,114.77 L577,116.42 L578.5,118.09 L580,119.78 L581.5,121.5 L583,123.24 L584.5,125.01 L586,126.8 L587.5,128.63 L589,130.48 L590.5,132.36 L592,134.28 L593.5,136.22 L595,138.2 L596.5,140.22 L598,142.27 L598.8,143.38" fill="none" stroke="#d21e23" stroke-width="1.9" stroke-linecap="butt" stroke-linejoin="round"/>
<path d="M358,56 L388,30 L405.5,38.75 L415,35 L427,33.2 L437.5,35 L452.5,32.75 L467.5,35.75 L478,38.75 L479.5,39.24 L481,39.77 L482.5,40.33 L484,40.93 L485.5,41.56 L487,42.22 L488.5,42.92 L490,43.64 L491.5,44.4 L493,45.19 L494.5,46.02 L496,46.87 L497.5,47.75 L499,48.66 L500.5,49.6 L502,50.57 L503.5,51.56 L505,52.58 L506.5,53.63 L508,54.71 L509.5,55.81 L511,56.93 L512.5,58.08 L514,59.25 L515.5,60.45 L517,61.67 L518.5,62.92 L520,64.18 L521.5,65.47 L523,66.78 L524.5,68.1 L526,69.45 L527.5,70.82 L529,72.21 L530.5,73.61 L532,75.04 L533.5,76.48 L535,77.94 L536.5,79.41 L538,80.9 L539.5,82.41 L541,83.93 L542.5,85.47 L544,87.02 L545.5,88.58 L547,90.15 L548.5,91.73 L550,93.33 L551.5,94.93 L553,96.54 L554.5,98.16 L556,99.78 L557.5,101.41 L559,103.05 L560.5,104.69 L562,106.33 L563.5,107.97 L565,109.61 L566.5,111.26 L568,112.9 L569.5,114.54 L571,116.18 L572.5,117.82 L574,119.45 L575.5,121.07 L577,122.69 L578.5,124.31 L580,125.91 L581.5,127.51 L583,129.1 L584.5,130.67 L586,132.24 L587.5,133.79 L589,135.33 L590.5,136.86 L592,138.37 L593.5,139.87 L595,141.34 L596.5,142.81 L598,144.25 L598.8,145.01" fill="none" stroke="#111111" stroke-width="1.9" stroke-dasharray="7.8,3.9" stroke-linecap="butt" stroke-linejoin="round"/>
</g>
<path d="M375,126.5 h39" fill="none" stroke="#d21e23" stroke-width="1.9"/>
<path d="M375,140.8 h39" fill="none" stroke="#111111" stroke-width="1.9" stroke-dasharray="7.8,3.9"/>
<text x="422.81" y="129.2" font-size="9.7" font-weight="bold" fill="#2a2a2a" textLength="18.82" lengthAdjust="spacingAndGlyphs">B1:</text>
<text x="447.19" y="129.2" font-size="9.3" font-style="italic" fill="#6c6c6c" textLength="6.35" lengthAdjust="spacingAndGlyphs">&#946;</text>
<text x="453.17" y="130.4" font-size="6.3" fill="#505050" textLength="4.17" lengthAdjust="spacingAndGlyphs">0</text>
<text x="461.3" y="129.2" font-size="9.3" fill="#505050" textLength="7.88" lengthAdjust="spacingAndGlyphs">=</text>
<text x="472.55" y="129.2" font-size="9.3" fill="#505050" textLength="14.07" lengthAdjust="spacingAndGlyphs">0.2</text>
<text x="487.31" y="129.2" font-size="9.3" fill="#505050" textLength="4.31" lengthAdjust="spacingAndGlyphs">,</text>
<text x="495.33" y="129.2" font-size="9.3" font-style="italic" fill="#6c6c6c" textLength="5.16" lengthAdjust="spacingAndGlyphs">&#957;</text>
<text x="500.41" y="130.6" font-size="6.9" font-style="italic" fill="#606060" textLength="4.74" lengthAdjust="spacingAndGlyphs">S</text>
<text x="510.8" y="129.2" font-size="9.3" fill="#505050" textLength="7.88" lengthAdjust="spacingAndGlyphs">=</text>
<text x="521.43" y="129.2" font-size="9.9" fill="#505050" textLength="11.7" lengthAdjust="spacingAndGlyphs">&#8734;</text>
<text x="422.81" y="143.5" font-size="9.7" font-weight="bold" fill="#2a2a2a" textLength="37.34" lengthAdjust="spacingAndGlyphs">Bmhd:</text>
<text x="466.21" y="143.5" font-size="9.3" font-style="italic" fill="#6c6c6c" textLength="6.84" lengthAdjust="spacingAndGlyphs">&#946;</text>
<text x="472.62" y="144.7" font-size="6.3" fill="#505050" textLength="4.76" lengthAdjust="spacingAndGlyphs">0</text>
<text x="479.35" y="143.5" font-size="9.3" fill="#505050" textLength="7.28" lengthAdjust="spacingAndGlyphs">=</text>
<text x="489.48" y="143.5" font-size="9.3" fill="#505050" textLength="16.23" lengthAdjust="spacingAndGlyphs">0.2</text>
<path d="M48,342.5 v-4 M48,198.5 v4 M78.1,342.5 v-2 M78.1,198.5 v2 M95.71,342.5 v-2 M95.71,198.5 v2 M108.21,342.5 v-2 M108.21,198.5 v2 M117.9,342.5 v-2 M117.9,198.5 v2 M125.82,342.5 v-2 M125.82,198.5 v2 M132.51,342.5 v-2 M132.51,198.5 v2 M138.31,342.5 v-2 M138.31,198.5 v2 M143.42,342.5 v-2 M143.42,198.5 v2 M148,342.5 v-4 M148,198.5 v4 M178.1,342.5 v-2 M178.1,198.5 v2 M195.71,342.5 v-2 M195.71,198.5 v2 M208.21,342.5 v-2 M208.21,198.5 v2 M217.9,342.5 v-2 M217.9,198.5 v2 M225.82,342.5 v-2 M225.82,198.5 v2 M232.51,342.5 v-2 M232.51,198.5 v2 M238.31,342.5 v-2 M238.31,198.5 v2 M243.42,342.5 v-2 M243.42,198.5 v2 M248,342.5 v-4 M248,198.5 v4 M278.1,342.5 v-2 M278.1,198.5 v2 M48,198.5 h4 M288.8,198.5 h-4 M48,222.5 h2 M288.8,222.5 h-2 M48,246.5 h4 M288.8,246.5 h-4 M48,270.5 h2 M288.8,270.5 h-2 M48,294.5 h4 M288.8,294.5 h-4 M48,318.5 h2 M288.8,318.5 h-2 M48,342.5 h4 M288.8,342.5 h-4" stroke="#222222" stroke-width="1" fill="none"/>
<rect x="48" y="198.5" width="240.8" height="144" fill="none" stroke="#222222" stroke-width="1.6"/>
<text x="39.77" y="359.8" font-size="10.2" fill="#333333" stroke="#333333" stroke-width="0.12" textLength="10.97" lengthAdjust="spacingAndGlyphs">10</text>
<text x="50.45" y="355.8" font-size="7.4" fill="#333333" stroke="#333333" stroke-width="0.1" textLength="4.4" lengthAdjust="spacingAndGlyphs">0</text>
<text x="139.77" y="359.8" font-size="10.2" fill="#333333" stroke="#333333" stroke-width="0.12" textLength="10.97" lengthAdjust="spacingAndGlyphs">10</text>
<text x="150.85" y="355.8" font-size="7.4" fill="#333333" stroke="#333333" stroke-width="0.1" textLength="3.24" lengthAdjust="spacingAndGlyphs">1</text>
<text x="239.77" y="359.8" font-size="10.2" fill="#333333" stroke="#333333" stroke-width="0.12" textLength="10.97" lengthAdjust="spacingAndGlyphs">10</text>
<text x="250.38" y="355.8" font-size="7.4" fill="#333333" stroke="#333333" stroke-width="0.1" textLength="4.62" lengthAdjust="spacingAndGlyphs">2</text>
<text x="165.25" y="369.5" font-size="9.8" font-style="italic" fill="#333333" stroke="#333333" stroke-width="0.1" textLength="5.16" lengthAdjust="spacingAndGlyphs">k</text>
<text x="23.52" y="201.2" font-size="10.2" fill="#333333" stroke="#333333" stroke-width="0.12" textLength="10.4" lengthAdjust="spacingAndGlyphs">10</text>
<text x="34.92" y="197.2" font-size="7.2" fill="#333333" stroke="#333333" stroke-width="0.1" textLength="2.25" lengthAdjust="spacingAndGlyphs">1</text>
<text x="16.57" y="249.3" font-size="10.2" fill="#333333" stroke="#333333" stroke-width="0.12" textLength="10.97" lengthAdjust="spacingAndGlyphs">10</text>
<text x="27.55" y="245.9" font-size="7.2" fill="#333333" stroke="#333333" stroke-width="0.3" textLength="6.19" lengthAdjust="spacingAndGlyphs">&#8722;</text>
<text x="34.23" y="245.4" font-size="7.2" fill="#333333" stroke="#333333" stroke-width="0.1" textLength="3.38" lengthAdjust="spacingAndGlyphs">1</text>
<text x="16.57" y="297.3" font-size="10.2" fill="#333333" stroke="#333333" stroke-width="0.12" textLength="10.97" lengthAdjust="spacingAndGlyphs">10</text>
<text x="27.55" y="293.9" font-size="7.2" fill="#333333" stroke="#333333" stroke-width="0.3" textLength="6.19" lengthAdjust="spacingAndGlyphs">&#8722;</text>
<text x="33.27" y="293.4" font-size="7.2" fill="#333333" stroke="#333333" stroke-width="0.1" textLength="4.82" lengthAdjust="spacingAndGlyphs">3</text>
<text x="16.57" y="345.3" font-size="10.2" fill="#333333" stroke="#333333" stroke-width="0.12" textLength="10.97" lengthAdjust="spacingAndGlyphs">10</text>
<text x="27.55" y="341.9" font-size="7.2" fill="#333333" stroke="#333333" stroke-width="0.3" textLength="6.19" lengthAdjust="spacingAndGlyphs">&#8722;</text>
<text x="33.1" y="341.4" font-size="7.2" fill="#333333" stroke="#333333" stroke-width="0.1" textLength="5" lengthAdjust="spacingAndGlyphs">5</text>
<text transform="translate(10,270.5) rotate(-90)" x="-25.96" y="0" font-size="9.4" font-style="italic" fill="#333333" textLength="6.81" lengthAdjust="spacingAndGlyphs">k</text>
<text transform="translate(10,270.5) rotate(-90)" x="-17.98" y="-3.6" font-size="7.2" fill="#333333" stroke="#333333" stroke-width="0.1" textLength="4" lengthAdjust="spacingAndGlyphs">5</text>
<text transform="translate(10,270.5) rotate(-90)" x="-13.5" y="-3.6" font-size="7.2" fill="#333333" stroke="#333333" stroke-width="0.05" textLength="3.23" lengthAdjust="spacingAndGlyphs">/</text>
<text transform="translate(10,270.5) rotate(-90)" x="-9.85" y="-3.6" font-size="7.2" fill="#333333" stroke="#333333" stroke-width="0.1" textLength="3.86" lengthAdjust="spacingAndGlyphs">3</text>
<text transform="translate(10,270.5) rotate(-90)" x="-4.63" y="0" font-size="9.4" font-style="italic" fill="#333333" textLength="7.97" lengthAdjust="spacingAndGlyphs">P</text>
<text transform="translate(10,270.5) rotate(-90)" x="3.71" y="1" font-size="6.4" font-style="italic" fill="#333333" stroke="#333333" stroke-width="0.1" textLength="5.69" lengthAdjust="spacingAndGlyphs">B</text>
<text transform="translate(10,270.5) rotate(-90)" x="10.31" y="0" font-size="9.6" fill="#333333" textLength="3.66" lengthAdjust="spacingAndGlyphs">(</text>
<text transform="translate(10,270.5) rotate(-90)" x="13.97" y="0" font-size="9.4" font-style="italic" fill="#333333" textLength="6.4" lengthAdjust="spacingAndGlyphs">k</text>
<text transform="translate(10,270.5) rotate(-90)" x="20.98" y="0" font-size="9.6" fill="#333333" textLength="3.59" lengthAdjust="spacingAndGlyphs">)</text>
<path d="M48.3,227.7 H287.8" stroke="#8c8c8c" stroke-width="1.3" stroke-dasharray="4,5.6"/>
<clipPath id="cp2"><rect x="48" y="198.5" width="240.8" height="144"/></clipPath>
<g clip-path="url(#cp2)">
<path d="M48,265.8 L78,237.7 L95.7,238.5 L108.3,228.7 L125,227.8 L135,227 L140,228.3 L145,225.3 L158.3,226.7 L159.8,227.01 L161.3,227.29 L162.8,227.54 L164.3,227.76 L165.8,227.95 L167.3,228.12 L168.8,228.27 L170.3,228.41 L171.8,228.53 L173.3,228.65 L174.8,228.77 L176.3,228.89 L177.8,229.01 L179.3,229.14 L180.8,229.27 L182.3,229.43 L183.8,229.6 L185.3,229.79 L186.8,230.01 L188.3,230.26 L189.8,230.54 L191.3,230.86 L192.8,231.22 L194.3,231.62 L195.8,232.07 L197.3,232.57 L198.8,233.12 L200.3,233.73 L201.8,234.41 L203.3,235.15 L204.8,235.95 L206.3,236.83 L207.8,237.79 L209.3,238.81 L210.8,239.89 L212.3,241.03 L213.8,242.22 L215.3,243.46 L216.8,244.73 L218.3,246.04 L219.8,247.38 L221.3,248.75 L222.8,250.13 L224.3,251.53 L225.8,252.93 L227.3,254.34 L228.8,255.75 L230.3,257.14 L231.8,258.53 L233.3,259.89 L234.8,261.23 L236.3,262.54 L237.8,263.81 L239.3,265.05 L240.8,266.26 L242.3,267.44 L243.8,268.61 L245.3,269.78 L246.8,270.94 L248.3,272.12 L249.8,273.31 L251.3,274.54 L252.8,275.79 L254.3,277.09 L255.8,278.45 L257.3,279.86 L258.8,281.34 L260.3,282.89 L261.8,284.53 L263.3,286.27 L264.8,288.1 L266.3,290.04 L267.8,292.1 L269.3,294.27 L270.8,296.54 L272.3,298.87 L273.8,301.22 L275.3,303.57 L276.8,305.89 L278.3,308.13 L279.8,310.28 L281.3,312.3 L282.8,314.16 L284.3,315.82 L285.8,317.26 L287.3,318.44 L288.8,319.33" fill="none" stroke="#d21e23" stroke-width="1.6" stroke-linecap="butt" stroke-linejoin="round"/>
<path d="M48,273 L78,243 L95.7,246.7 L108.3,241.2 L125,241.2 L141.7,239.5 L150,238.7 L151.5,238.87 L153,239.01 L154.5,239.12 L156,239.22 L157.5,239.29 L159,239.35 L160.5,239.39 L162,239.4 L163.5,239.41 L165,239.4 L166.5,239.37 L168,239.34 L169.5,239.29 L171,239.24 L172.5,239.18 L174,239.11 L175.5,239.04 L177,238.96 L178.5,238.89 L180,238.81 L181.5,238.73 L183,238.65 L184.5,238.58 L186,238.51 L187.5,238.45 L189,238.39 L190.5,238.35 L192,238.31 L193.5,238.29 L195,238.28 L196.5,238.28 L198,238.3 L199.5,238.33 L201,238.38 L202.5,238.46 L204,238.55 L205.5,238.67 L207,238.8 L208.5,238.97 L210,239.16 L211.5,239.38 L213,239.62 L214.5,239.9 L216,240.21 L217.5,240.55 L219,240.93 L220.5,241.33 L222,241.77 L223.5,242.24 L225,242.74 L226.5,243.27 L228,243.83 L229.5,244.42 L231,245.03 L232.5,245.67 L234,246.34 L235.5,247.04 L237,247.76 L238.5,248.5 L240,249.28 L241.5,250.1 L243,250.97 L244.5,251.9 L246,252.9 L247.5,253.98 L249,255.16 L250.5,256.42 L252,257.78 L253.5,259.21 L255,260.71 L256.5,262.28 L258,263.91 L259.5,265.58 L261,267.3 L262.5,269.05 L264,270.83 L265.5,272.63 L267,274.45 L268.5,276.26 L270,278.08 L271.5,279.89 L273,281.68 L274.5,283.44 L276,285.18 L277.5,286.87 L279,288.52 L280.5,290.1 L282,291.57 L283.5,292.9 L285,294.05 L286.5,294.99 L288,295.68 L288.8,295.93" fill="none" stroke="#22cc22" stroke-width="1.9" stroke-dasharray="1.9,3" stroke-linecap="butt" stroke-linejoin="round"/>
<path d="M48,268 L78,238.75 L95.7,238.75 L100,236.2 L108.3,231.2 L125,231.2 L141.7,229.5 L150,230.3 L151.5,230.36 L153,230.46 L154.5,230.58 L156,230.73 L157.5,230.91 L159,231.11 L160.5,231.33 L162,231.57 L163.5,231.82 L165,232.09 L166.5,232.37 L168,232.66 L169.5,232.97 L171,233.27 L172.5,233.58 L174,233.9 L175.5,234.21 L177,234.52 L178.5,234.83 L180,235.13 L181.5,235.42 L183,235.71 L184.5,235.98 L186,236.23 L187.5,236.47 L189,236.69 L190.5,236.89 L192,237.07 L193.5,237.22 L195,237.35 L196.5,237.44 L198,237.51 L199.5,237.54 L201,237.54 L202.5,237.52 L204,237.48 L205.5,237.42 L207,237.35 L208.5,237.26 L210,237.18 L211.5,237.09 L213,237.01 L214.5,236.94 L216,236.88 L217.5,236.84 L219,236.81 L220.5,236.82 L222,236.85 L223.5,236.92 L225,237.02 L226.5,237.17 L228,237.37 L229.5,237.61 L231,237.91 L232.5,238.27 L234,238.7 L235.5,239.19 L237,239.75 L238.5,240.39 L240,241.11 L241.5,241.92 L243,242.82 L244.5,243.8 L246,244.88 L247.5,246.04 L249,247.28 L250.5,248.59 L252,249.97 L253.5,251.41 L255,252.92 L256.5,254.48 L258,256.08 L259.5,257.74 L261,259.43 L262.5,261.16 L264,262.91 L265.5,264.7 L267,266.5 L268.5,268.32 L270,270.14 L271.5,271.98 L273,273.81 L274.5,275.64 L276,277.46 L277.5,279.27 L279,281.05 L280.5,282.79 L282,284.42 L283.5,285.91 L285,287.18 L286.5,288.2 L288,288.91 L288.8,289.15" fill="none" stroke="#2a2aaa" stroke-width="1.8" stroke-dasharray="11.5,4,2,4" stroke-linecap="butt" stroke-linejoin="round"/>
<path d="M48,265.8 L78,237.7 L95.7,238.5 L108.3,228.7 L125,227.8 L135,227 L140,228.3 L145,225.3 L158.3,226.7 L159.8,226.72 L161.3,226.76 L162.8,226.84 L164.3,226.95 L165.8,227.09 L167.3,227.25 L168.8,227.44 L170.3,227.66 L171.8,227.9 L173.3,228.17 L174.8,228.46 L176.3,228.77 L177.8,229.1 L179.3,229.45 L180.8,229.83 L182.3,230.21 L183.8,230.62 L185.3,231.04 L186.8,231.48 L188.3,231.93 L189.8,232.39 L191.3,232.87 L192.8,233.36 L194.3,233.85 L195.8,234.36 L197.3,234.87 L198.8,235.39 L200.3,235.92 L201.8,236.46 L203.3,237.01 L204.8,237.57 L206.3,238.15 L207.8,238.74 L209.3,239.35 L210.8,239.97 L212.3,240.62 L213.8,241.28 L215.3,241.97 L216.8,242.68 L218.3,243.41 L219.8,244.17 L221.3,244.95 L222.8,245.76 L224.3,246.6 L225.8,247.48 L227.3,248.38 L228.8,249.32 L230.3,250.28 L231.8,251.29 L233.3,252.32 L234.8,253.39 L236.3,254.49 L237.8,255.62 L239.3,256.79 L240.8,257.99 L242.3,259.22 L243.8,260.47 L245.3,261.76 L246.8,263.07 L248.3,264.4 L249.8,265.75 L251.3,267.13 L252.8,268.53 L254.3,269.94 L255.8,271.37 L257.3,272.81 L258.8,274.29 L260.3,275.8 L261.8,277.37 L263.3,279 L264.8,280.7 L266.3,282.49 L267.8,284.38 L269.3,286.37 L270.8,288.44 L272.3,290.55 L273.8,292.66 L275.3,294.76 L276.8,296.8 L278.3,298.75 L279.8,300.58 L281.3,302.25 L282.8,303.75 L284.3,305.02 L285.8,306.04 L287.3,306.78 L288.8,307.21" fill="none" stroke="#dd22dd" stroke-width="1.8" stroke-dasharray="4,3.8,4,11.5" stroke-linecap="butt" stroke-linejoin="round"/>
<path d="M48,265.8 L78,237.7 L95.7,238.5 L108.3,228.7 L125,227.8 L135,227 L140,228.3 L145,225.3 L158.3,226.7 L159.8,227.01 L161.3,227.28 L162.8,227.52 L164.3,227.73 L165.8,227.92 L167.3,228.09 L168.8,228.24 L170.3,228.38 L171.8,228.51 L173.3,228.63 L174.8,228.75 L176.3,228.87 L177.8,228.99 L179.3,229.12 L180.8,229.26 L182.3,229.42 L183.8,229.6 L185.3,229.79 L186.8,230.02 L188.3,230.27 L189.8,230.56 L191.3,230.88 L192.8,231.24 L194.3,231.64 L195.8,232.09 L197.3,232.6 L198.8,233.15 L200.3,233.76 L201.8,234.44 L203.3,235.18 L204.8,235.98 L206.3,236.86 L207.8,237.81 L209.3,238.82 L210.8,239.9 L212.3,241.03 L213.8,242.22 L215.3,243.45 L216.8,244.71 L218.3,246.02 L219.8,247.35 L221.3,248.71 L222.8,250.09 L224.3,251.48 L225.8,252.89 L227.3,254.29 L228.8,255.7 L230.3,257.09 L231.8,258.48 L233.3,259.85 L234.8,261.19 L236.3,262.51 L237.8,263.8 L239.3,265.05 L240.8,266.27 L242.3,267.47 L243.8,268.66 L245.3,269.84 L246.8,271.01 L248.3,272.19 L249.8,273.38 L251.3,274.6 L252.8,275.84 L254.3,277.11 L255.8,278.43 L257.3,279.79 L258.8,281.2 L260.3,282.68 L261.8,284.23 L263.3,285.85 L264.8,287.56 L266.3,289.35 L267.8,291.24 L269.3,293.23 L270.8,295.29 L272.3,297.39 L273.8,299.51 L275.3,301.61 L276.8,303.67 L278.3,305.65 L279.8,307.53 L281.3,309.28 L282.8,310.87 L284.3,312.27 L285.8,313.45 L287.3,314.38 L288.8,315.04" fill="none" stroke="#7c7c7c" stroke-width="1.45" stroke-dasharray="11.5,3.8,2,3.8,2,3.8" stroke-linecap="butt" stroke-linejoin="round"/>
<path d="M48,265.8 L78,236.7 L95.7,237.7 L108.3,228.7 L125,227.3 L135,226.7 L143.3,223.7 L150,224.5 L151.5,224.57 L153,224.64 L154.5,224.69 L156,224.73 L157.5,224.76 L159,224.79 L160.5,224.82 L162,224.84 L163.5,224.86 L165,224.88 L166.5,224.91 L168,224.93 L169.5,224.97 L171,225.01 L172.5,225.06 L174,225.13 L175.5,225.2 L177,225.29 L178.5,225.4 L180,225.52 L181.5,225.66 L183,225.83 L184.5,226.02 L186,226.23 L187.5,226.47 L189,226.74 L190.5,227.03 L192,227.36 L193.5,227.72 L195,228.12 L196.5,228.55 L198,229.03 L199.5,229.54 L201,230.09 L202.5,230.69 L204,231.33 L205.5,232.02 L207,232.76 L208.5,233.54 L210,234.37 L211.5,235.25 L213,236.16 L214.5,237.12 L216,238.11 L217.5,239.14 L219,240.2 L220.5,241.3 L222,242.42 L223.5,243.58 L225,244.76 L226.5,245.97 L228,247.2 L229.5,248.45 L231,249.72 L232.5,251.01 L234,252.31 L235.5,253.63 L237,254.96 L238.5,256.3 L240,257.65 L241.5,259.01 L243,260.39 L244.5,261.77 L246,263.18 L247.5,264.6 L249,266.04 L250.5,267.5 L252,268.98 L253.5,270.49 L255,272.01 L256.5,273.57 L258,275.15 L259.5,276.75 L261,278.39 L262.5,280.06 L264,281.76 L265.5,283.49 L267,285.26 L268.5,287.06 L270,288.91 L271.5,290.8 L273,292.74 L274.5,294.74 L276,296.8 L277.5,298.93 L279,301.13 L280.5,303.41 L282,305.78 L283.5,308.25 L285,310.79 L286.5,312.85 L288,313.31 L288.8,312.5" fill="none" stroke="#111111" stroke-width="1.9" stroke-dasharray="7.8,3.9" stroke-linecap="butt" stroke-linejoin="round"/>
</g>
<path d="M65,259.9 h39" fill="none" stroke="#d21e23" stroke-width="1.6"/>
<path d="M65,274.2 h39" fill="none" stroke="#22cc22" stroke-width="1.9" stroke-dasharray="1.9,3"/>
<path d="M65,288.5 h39" fill="none" stroke="#2a2aaa" stroke-width="1.8" stroke-dasharray="11.5,4,2,4"/>
<path d="M65,302.9 h39" fill="none" stroke="#dd22dd" stroke-width="1.8" stroke-dasharray="4,3.8,4,11.5"/>
<path d="M65,317.2 h39" fill="none" stroke="#7c7c7c" stroke-width="1.45" stroke-dasharray="11.5,3.8,2,3.8,2,3.8" stroke-dashoffset="21.1"/>
<path d="M65,331.3 h39" fill="none" stroke="#111111" stroke-width="1.9" stroke-dasharray="7.8,3.9"/>
<text x="112.79" y="262.6" font-size="9.7" font-weight="bold" fill="#2a2a2a" textLength="17.85" lengthAdjust="spacingAndGlyphs">A1:</text>
<text x="135.22" y="262.6" font-size="9.3" font-style="italic" fill="#6c6c6c" textLength="7.32" lengthAdjust="spacingAndGlyphs">&#946;</text>
<text x="142.19" y="263.8" font-size="6.3" fill="#505050" textLength="3.93" lengthAdjust="spacingAndGlyphs">0</text>
<text x="148.93" y="262.6" font-size="9.3" fill="#505050" textLength="7.52" lengthAdjust="spacingAndGlyphs">=</text>
<text x="160.35" y="262.6" font-size="9.3" fill="#505050" textLength="15.05" lengthAdjust="spacingAndGlyphs">200</text>
<text x="175.68" y="262.6" font-size="9.3" fill="#505050" textLength="3.53" lengthAdjust="spacingAndGlyphs">,</text>
<text x="182.74" y="262.6" font-size="9.3" font-style="italic" fill="#6c6c6c" textLength="4.75" lengthAdjust="spacingAndGlyphs">&#957;</text>
<text x="187.39" y="264" font-size="6.9" font-style="italic" fill="#606060" textLength="5.26" lengthAdjust="spacingAndGlyphs">S</text>
<text x="197.22" y="262.6" font-size="9.3" fill="#505050" textLength="7.64" lengthAdjust="spacingAndGlyphs">=</text>
<text x="208.2" y="262.6" font-size="9.9" fill="#505050" textLength="11.14" lengthAdjust="spacingAndGlyphs">&#8734;</text>
<text x="112.79" y="276.9" font-size="9.7" font-weight="bold" fill="#2a2a2a" textLength="17.85" lengthAdjust="spacingAndGlyphs">A2:</text>
<text x="135.22" y="276.9" font-size="9.3" font-style="italic" fill="#6c6c6c" textLength="7.32" lengthAdjust="spacingAndGlyphs">&#946;</text>
<text x="142.19" y="278.1" font-size="6.3" fill="#505050" textLength="3.93" lengthAdjust="spacingAndGlyphs">0</text>
<text x="148.93" y="276.9" font-size="9.3" fill="#505050" textLength="7.52" lengthAdjust="spacingAndGlyphs">=</text>
<text x="160.35" y="276.9" font-size="9.3" fill="#505050" textLength="15.05" lengthAdjust="spacingAndGlyphs">200</text>
<text x="175.68" y="276.9" font-size="9.3" fill="#505050" textLength="3.53" lengthAdjust="spacingAndGlyphs">,</text>
<text x="182.74" y="276.9" font-size="9.3" font-style="italic" fill="#6c6c6c" textLength="4.75" lengthAdjust="spacingAndGlyphs">&#957;</text>
<text x="187.39" y="278.3" font-size="6.9" font-style="italic" fill="#606060" textLength="5.26" lengthAdjust="spacingAndGlyphs">S</text>
<text x="197.22" y="276.9" font-size="9.3" fill="#505050" textLength="7.64" lengthAdjust="spacingAndGlyphs">=</text>
<text x="208.55" y="276.9" font-size="9.3" fill="#505050" textLength="5.6" lengthAdjust="spacingAndGlyphs">0</text>
<text x="112.79" y="291.2" font-size="9.7" font-weight="bold" fill="#2a2a2a" textLength="17.85" lengthAdjust="spacingAndGlyphs">A3:</text>
<text x="135.22" y="291.2" font-size="9.3" font-style="italic" fill="#6c6c6c" textLength="7.32" lengthAdjust="spacingAndGlyphs">&#946;</text>
<text x="142.19" y="292.4" font-size="6.3" fill="#505050" textLength="3.93" lengthAdjust="spacingAndGlyphs">0</text>
<text x="148.93" y="291.2" font-size="9.3" fill="#505050" textLength="7.52" lengthAdjust="spacingAndGlyphs">=</text>
<text x="160.35" y="291.2" font-size="9.3" fill="#505050" textLength="15.05" lengthAdjust="spacingAndGlyphs">200</text>
<text x="175.68" y="291.2" font-size="9.3" fill="#505050" textLength="3.53" lengthAdjust="spacingAndGlyphs">,</text>
<text x="182.74" y="291.2" font-size="9.3" font-style="italic" fill="#6c6c6c" textLength="4.75" lengthAdjust="spacingAndGlyphs">&#957;</text>
<text x="187.39" y="292.6" font-size="6.9" font-style="italic" fill="#606060" textLength="5.26" lengthAdjust="spacingAndGlyphs">S</text>
<text x="197.22" y="291.2" font-size="9.3" fill="#505050" textLength="7.64" lengthAdjust="spacingAndGlyphs">=</text>
<text x="207.9" y="291.2" font-size="9.3" fill="#505050" textLength="10" lengthAdjust="spacingAndGlyphs">10</text>
<text x="217.61" y="287.6" font-size="6.6" fill="#505050" textLength="5.21" lengthAdjust="spacingAndGlyphs">1</text>
<text x="112.79" y="305.6" font-size="9.7" font-weight="bold" fill="#2a2a2a" textLength="17.85" lengthAdjust="spacingAndGlyphs">A4:</text>
<text x="135.22" y="305.6" font-size="9.3" font-style="italic" fill="#6c6c6c" textLength="7.32" lengthAdjust="spacingAndGlyphs">&#946;</text>
<text x="142.19" y="306.8" font-size="6.3" fill="#505050" textLength="3.93" lengthAdjust="spacingAndGlyphs">0</text>
<text x="148.93" y="305.6" font-size="9.3" fill="#505050" textLength="7.52" lengthAdjust="spacingAndGlyphs">=</text>
<text x="160.35" y="305.6" font-size="9.3" fill="#505050" textLength="15.05" lengthAdjust="spacingAndGlyphs">200</text>
<text x="175.68" y="305.6" font-size="9.3" fill="#505050" textLength="3.53" lengthAdjust="spacingAndGlyphs">,</text>
<text x="182.74" y="305.6" font-size="9.3" font-style="italic" fill="#6c6c6c" textLength="4.75" lengthAdjust="spacingAndGlyphs">&#957;</text>
<text x="187.39" y="307" font-size="6.9" font-style="italic" fill="#606060" textLength="5.26" lengthAdjust="spacingAndGlyphs">S</text>
<text x="197.22" y="305.6" font-size="9.3" fill="#505050" textLength="7.64" lengthAdjust="spacingAndGlyphs">=</text>
<text x="207.9" y="305.6" font-size="9.3" fill="#505050" textLength="10" lengthAdjust="spacingAndGlyphs">10</text>
<text x="218.08" y="302" font-size="6.6" fill="#505050" textLength="4.62" lengthAdjust="spacingAndGlyphs">2</text>
<text x="112.79" y="319.9" font-size="9.7" font-weight="bold" fill="#2a2a2a" textLength="17.85" lengthAdjust="spacingAndGlyphs">A5:</text>
<text x="135.22" y="319.9" font-size="9.3" font-style="italic" fill="#6c6c6c" textLength="7.32" lengthAdjust="spacingAndGlyphs">&#946;</text>
<text x="142.19" y="321.1" font-size="6.3" fill="#505050" textLength="3.93" lengthAdjust="spacingAndGlyphs">0</text>
<text x="148.93" y="319.9" font-size="9.3" fill="#505050" textLength="7.52" lengthAdjust="spacingAndGlyphs">=</text>
<text x="160.35" y="319.9" font-size="9.3" fill="#505050" textLength="15.05" lengthAdjust="spacingAndGlyphs">200</text>
<text x="175.68" y="319.9" font-size="9.3" fill="#505050" textLength="3.53" lengthAdjust="spacingAndGlyphs">,</text>
<text x="182.74" y="319.9" font-size="9.3" font-style="italic" fill="#6c6c6c" textLength="4.75" lengthAdjust="spacingAndGlyphs">&#957;</text>
<text x="187.39" y="321.3" font-size="6.9" font-style="italic" fill="#606060" textLength="5.26" lengthAdjust="spacingAndGlyphs">S</text>
<text x="197.22" y="319.9" font-size="9.3" fill="#505050" textLength="7.64" lengthAdjust="spacingAndGlyphs">=</text>
<text x="207.9" y="319.9" font-size="9.3" fill="#505050" textLength="10" lengthAdjust="spacingAndGlyphs">10</text>
<text x="218.1" y="316.3" font-size="6.6" fill="#505050" textLength="4.46" lengthAdjust="spacingAndGlyphs">3</text>
<text x="112.79" y="334" font-size="9.7" font-weight="bold" fill="#2a2a2a" textLength="34.19" lengthAdjust="spacingAndGlyphs">Amhd:</text>
<text x="152.22" y="334" font-size="9.3" font-style="italic" fill="#6c6c6c" textLength="7.32" lengthAdjust="spacingAndGlyphs">&#946;</text>
<text x="159.21" y="335.2" font-size="6.3" fill="#505050" textLength="3.57" lengthAdjust="spacingAndGlyphs">0</text>
<text x="165.55" y="334" font-size="9.3" fill="#505050" textLength="7.28" lengthAdjust="spacingAndGlyphs">=</text>
<text x="176.22" y="334" font-size="9.3" fill="#505050" textLength="15.9" lengthAdjust="spacingAndGlyphs">200</text>
<path d="M358,342.5 v-4 M358,198.5 v4 M388.1,342.5 v-2 M388.1,198.5 v2 M405.71,342.5 v-2 M405.71,198.5 v2 M418.21,342.5 v-2 M418.21,198.5 v2 M427.9,342.5 v-2 M427.9,198.5 v2 M435.82,342.5 v-2 M435.82,198.5 v2 M442.51,342.5 v-2 M442.51,198.5 v2 M448.31,342.5 v-2 M448.31,198.5 v2 M453.42,342.5 v-2 M453.42,198.5 v2 M458,342.5 v-4 M458,198.5 v4 M488.1,342.5 v-2 M488.1,198.5 v2 M505.71,342.5 v-2 M505.71,198.5 v2 M518.21,342.5 v-2 M518.21,198.5 v2 M527.9,342.5 v-2 M527.9,198.5 v2 M535.82,342.5 v-2 M535.82,198.5 v2 M542.51,342.5 v-2 M542.51,198.5 v2 M548.31,342.5 v-2 M548.31,198.5 v2 M553.42,342.5 v-2 M553.42,198.5 v2 M558,342.5 v-4 M558,198.5 v4 M588.1,342.5 v-2 M588.1,198.5 v2 M358,198.5 h4 M598.8,198.5 h-4 M358,222.5 h2 M598.8,222.5 h-2 M358,246.5 h4 M598.8,246.5 h-4 M358,270.5 h2 M598.8,270.5 h-2 M358,294.5 h4 M598.8,294.5 h-4 M358,318.5 h2 M598.8,318.5 h-2 M358,342.5 h4 M598.8,342.5 h-4" stroke="#222222" stroke-width="1" fill="none"/>
<rect x="358" y="198.5" width="240.8" height="144" fill="none" stroke="#222222" stroke-width="1.6"/>
<text x="349.77" y="359.8" font-size="10.2" fill="#333333" stroke="#333333" stroke-width="0.12" textLength="10.97" lengthAdjust="spacingAndGlyphs">10</text>
<text x="360.45" y="355.8" font-size="7.4" fill="#333333" stroke="#333333" stroke-width="0.1" textLength="4.4" lengthAdjust="spacingAndGlyphs">0</text>
<text x="449.77" y="359.8" font-size="10.2" fill="#333333" stroke="#333333" stroke-width="0.12" textLength="10.97" lengthAdjust="spacingAndGlyphs">10</text>
<text x="460.85" y="355.8" font-size="7.4" fill="#333333" stroke="#333333" stroke-width="0.1" textLength="3.24" lengthAdjust="spacingAndGlyphs">1</text>
<text x="549.77" y="359.8" font-size="10.2" fill="#333333" stroke="#333333" stroke-width="0.12" textLength="10.97" lengthAdjust="spacingAndGlyphs">10</text>
<text x="560.38" y="355.8" font-size="7.4" fill="#333333" stroke="#333333" stroke-width="0.1" textLength="4.63" lengthAdjust="spacingAndGlyphs">2</text>
<text x="475.25" y="369.5" font-size="9.8" font-style="italic" fill="#333333" stroke="#333333" stroke-width="0.1" textLength="5.16" lengthAdjust="spacingAndGlyphs">k</text>
<text x="333.52" y="201.2" font-size="10.2" fill="#333333" stroke="#333333" stroke-width="0.12" textLength="10.4" lengthAdjust="spacingAndGlyphs">10</text>
<text x="344.92" y="197.2" font-size="7.2" fill="#333333" stroke="#333333" stroke-width="0.1" textLength="2.25" lengthAdjust="spacingAndGlyphs">1</text>
<text x="326.57" y="249.3" font-size="10.2" fill="#333333" stroke="#333333" stroke-width="0.12" textLength="10.97" lengthAdjust="spacingAndGlyphs">10</text>
<text x="337.55" y="245.9" font-size="7.2" fill="#333333" stroke="#333333" stroke-width="0.3" textLength="6.19" lengthAdjust="spacingAndGlyphs">&#8722;</text>
<text x="344.23" y="245.4" font-size="7.2" fill="#333333" stroke="#333333" stroke-width="0.1" textLength="3.38" lengthAdjust="spacingAndGlyphs">1</text>
<text x="326.57" y="297.3" font-size="10.2" fill="#333333" stroke="#333333" stroke-width="0.12" textLength="10.97" lengthAdjust="spacingAndGlyphs">10</text>
<text x="337.55" y="293.9" font-size="7.2" fill="#333333" stroke="#333333" stroke-width="0.3" textLength="6.19" lengthAdjust="spacingAndGlyphs">&#8722;</text>
<text x="343.27" y="293.4" font-size="7.2" fill="#333333" stroke="#333333" stroke-width="0.1" textLength="4.82" lengthAdjust="spacingAndGlyphs">3</text>
<text x="326.57" y="345.3" font-size="10.2" fill="#333333" stroke="#333333" stroke-width="0.12" textLength="10.97" lengthAdjust="spacingAndGlyphs">10</text>
<text x="337.55" y="341.9" font-size="7.2" fill="#333333" stroke="#333333" stroke-width="0.3" textLength="6.19" lengthAdjust="spacingAndGlyphs">&#8722;</text>
<text x="343.1" y="341.4" font-size="7.2" fill="#333333" stroke="#333333" stroke-width="0.1" textLength="5" lengthAdjust="spacingAndGlyphs">5</text>
<text transform="translate(320,270.5) rotate(-90)" x="-25.96" y="0" font-size="9.4" font-style="italic" fill="#333333" textLength="6.81" lengthAdjust="spacingAndGlyphs">k</text>
<text transform="translate(320,270.5) rotate(-90)" x="-17.98" y="-3.6" font-size="7.2" fill="#333333" stroke="#333333" stroke-width="0.1" textLength="4" lengthAdjust="spacingAndGlyphs">5</text>
<text transform="translate(320,270.5) rotate(-90)" x="-13.5" y="-3.6" font-size="7.2" fill="#333333" stroke="#333333" stroke-width="0.05" textLength="3.23" lengthAdjust="spacingAndGlyphs">/</text>
<text transform="translate(320,270.5) rotate(-90)" x="-9.85" y="-3.6" font-size="7.2" fill="#333333" stroke="#333333" stroke-width="0.1" textLength="3.86" lengthAdjust="spacingAndGlyphs">3</text>
<text transform="translate(320,270.5) rotate(-90)" x="-4.63" y="0" font-size="9.4" font-style="italic" fill="#333333" textLength="7.97" lengthAdjust="spacingAndGlyphs">P</text>
<text transform="translate(320,270.5) rotate(-90)" x="3.71" y="1" font-size="6.4" font-style="italic" fill="#333333" stroke="#333333" stroke-width="0.1" textLength="5.69" lengthAdjust="spacingAndGlyphs">B</text>
<text transform="translate(320,270.5) rotate(-90)" x="10.31" y="0" font-size="9.6" fill="#333333" textLength="3.66" lengthAdjust="spacingAndGlyphs">(</text>
<text transform="translate(320,270.5) rotate(-90)" x="13.97" y="0" font-size="9.4" font-style="italic" fill="#333333" textLength="6.4" lengthAdjust="spacingAndGlyphs">k</text>
<text transform="translate(320,270.5) rotate(-90)" x="20.98" y="0" font-size="9.6" fill="#333333" textLength="3.59" lengthAdjust="spacingAndGlyphs">)</text>
<path d="M358.3,227.9 H597.8" stroke="#8c8c8c" stroke-width="1.3" stroke-dasharray="4,5.6"/>
<clipPath id="cp3"><rect x="358" y="198.5" width="240.8" height="144"/></clipPath>
<g clip-path="url(#cp3)">
<path d="M358,258.5 L387.5,224.3 L405.5,232.7 L419,227 L426.5,225.5 L437,227.3 L453.5,226.2 L462.5,228.75 L470,229.2 L471.5,229.55 L473,229.94 L474.5,230.35 L476,230.79 L477.5,231.26 L479,231.77 L480.5,232.3 L482,232.86 L483.5,233.46 L485,234.08 L486.5,234.74 L488,235.43 L489.5,236.14 L491,236.9 L492.5,237.68 L494,238.49 L495.5,239.34 L497,240.22 L498.5,241.13 L500,242.08 L501.5,243.06 L503,244.06 L504.5,245.1 L506,246.17 L507.5,247.26 L509,248.38 L510.5,249.52 L512,250.69 L513.5,251.87 L515,253.07 L516.5,254.29 L518,255.53 L519.5,256.78 L521,258.04 L522.5,259.31 L524,260.59 L525.5,261.88 L527,263.17 L528.5,264.47 L530,265.77 L531.5,267.07 L533,268.38 L534.5,269.69 L536,271.01 L537.5,272.33 L539,273.67 L540.5,275.02 L542,276.39 L543.5,277.77 L545,279.17 L546.5,280.59 L548,282.03 L549.5,283.49 L551,284.99 L552.5,286.51 L554,288.06 L555.5,289.64 L557,291.25 L558.5,292.89 L560,294.55 L561.5,296.23 L563,297.93 L564.5,299.64 L566,301.37 L567.5,303.11 L569,304.86 L570.5,306.62 L572,308.38 L573.5,310.14 L575,311.89 L576.5,313.65 L578,315.39 L579.5,317.13 L581,318.86 L582.5,320.57 L584,322.26 L585.5,323.93 L587,325.58 L588.5,327.21 L590,328.81 L591.5,330.38 L593,331.91 L594.5,333.41 L596,334.88 L597.5,336.3 L598.8,337.49" fill="none" stroke="#d21e23" stroke-width="1.9" stroke-linecap="butt" stroke-linejoin="round"/>
<path d="M358,254 L387.5,224.3 L405.5,232.7 L419,227 L426.5,225.5 L437,227.3 L453.5,226.2 L462.5,228.75 L470,229.2 L471.5,229.56 L473,229.95 L474.5,230.37 L476,230.82 L477.5,231.29 L479,231.79 L480.5,232.32 L482,232.88 L483.5,233.47 L485,234.09 L486.5,234.74 L488,235.42 L489.5,236.13 L491,236.88 L492.5,237.65 L494,238.46 L495.5,239.31 L497,240.18 L498.5,241.09 L500,242.03 L501.5,243.01 L503,244.02 L504.5,245.06 L506,246.13 L507.5,247.23 L509,248.36 L510.5,249.5 L512,250.67 L513.5,251.87 L515,253.07 L516.5,254.3 L518,255.54 L519.5,256.8 L521,258.07 L522.5,259.35 L524,260.63 L525.5,261.92 L527,263.22 L528.5,264.52 L530,265.83 L531.5,267.13 L533,268.43 L534.5,269.74 L536,271.05 L537.5,272.38 L539,273.71 L540.5,275.05 L542,276.41 L543.5,277.79 L545,279.18 L546.5,280.59 L548,282.03 L549.5,283.49 L551,284.98 L552.5,286.49 L554,288.04 L555.5,289.62 L557,291.22 L558.5,292.86 L560,294.51 L561.5,296.19 L563,297.89 L564.5,299.6 L566,301.33 L567.5,303.07 L569,304.81 L570.5,306.56 L572,308.31 L573.5,310.06 L575,311.82 L576.5,313.57 L578,315.31 L579.5,317.06 L581,318.79 L582.5,320.52 L584,322.24 L585.5,323.95 L587,325.65 L588.5,327.34 L590,329.01 L591.5,330.67 L593,332.31 L594.5,333.93 L596,335.54 L597.5,337.13 L598.8,338.49" fill="none" stroke="#111111" stroke-width="1.9" stroke-dasharray="7.8,3.9" stroke-linecap="butt" stroke-linejoin="round"/>
</g>
<path d="M375,317 h39" fill="none" stroke="#d21e23" stroke-width="1.9"/>
<path d="M375,331.3 h39" fill="none" stroke="#111111" stroke-width="1.9" stroke-dasharray="7.8,3.9"/>
<text x="422.81" y="319.7" font-size="9.7" font-weight="bold" fill="#2a2a2a" textLength="18.82" lengthAdjust="spacingAndGlyphs">B1:</text>
<text x="447.19" y="319.7" font-size="9.3" font-style="italic" fill="#6c6c6c" textLength="6.35" lengthAdjust="spacingAndGlyphs">&#946;</text>
<text x="453.17" y="320.9" font-size="6.3" fill="#505050" textLength="4.17" lengthAdjust="spacingAndGlyphs">0</text>
<text x="461.3" y="319.7" font-size="9.3" fill="#505050" textLength="7.88" lengthAdjust="spacingAndGlyphs">=</text>
<text x="472.55" y="319.7" font-size="9.3" fill="#505050" textLength="14.07" lengthAdjust="spacingAndGlyphs">0.2</text>
<text x="487.31" y="319.7" font-size="9.3" fill="#505050" textLength="4.31" lengthAdjust="spacingAndGlyphs">,</text>
<text x="495.33" y="319.7" font-size="9.3" font-style="italic" fill="#6c6c6c" textLength="5.16" lengthAdjust="spacingAndGlyphs">&#957;</text>
<text x="500.41" y="321.1" font-size="6.9" font-style="italic" fill="#606060" textLength="4.74" lengthAdjust="spacingAndGlyphs">S</text>
<text x="510.8" y="319.7" font-size="9.3" fill="#505050" textLength="7.88" lengthAdjust="spacingAndGlyphs">=</text>
<text x="521.43" y="319.7" font-size="9.9" fill="#505050" textLength="11.7" lengthAdjust="spacingAndGlyphs">&#8734;</text>
<text x="422.81" y="334" font-size="9.7" font-weight="bold" fill="#2a2a2a" textLength="37.34" lengthAdjust="spacingAndGlyphs">Bmhd:</text>
<text x="466.21" y="334" font-size="9.3" font-style="italic" fill="#6c6c6c" textLength="6.84" lengthAdjust="spacingAndGlyphs">&#946;</text>
<text x="472.62" y="335.2" font-size="6.3" fill="#505050" textLength="4.76" lengthAdjust="spacingAndGlyphs">0</text>
<text x="479.35" y="334" font-size="9.3" fill="#505050" textLength="7.28" lengthAdjust="spacingAndGlyphs">=</text>
<text x="489.48" y="334" font-size="9.3" fill="#505050" textLength="16.23" lengthAdjust="spacingAndGlyphs">0.2</text>
<path d="M48,533.4 v-4 M48,389.4 v4 M78.1,533.4 v-2 M78.1,389.4 v2 M95.71,533.4 v-2 M95.71,389.4 v2 M108.21,533.4 v-2 M108.21,389.4 v2 M117.9,533.4 v-2 M117.9,389.4 v2 M125.82,533.4 v-2 M125.82,389.4 v2 M132.51,533.4 v-2 M132.51,389.4 v2 M138.31,533.4 v-2 M138.31,389.4 v2 M143.42,533.4 v-2 M143.42,389.4 v2 M148,533.4 v-4 M148,389.4 v4 M178.1,533.4 v-2 M178.1,389.4 v2 M195.71,533.4 v-2 M195.71,389.4 v2 M208.21,533.4 v-2 M208.21,389.4 v2 M217.9,533.4 v-2 M217.9,389.4 v2 M225.82,533.4 v-2 M225.82,389.4 v2 M232.51,533.4 v-2 M232.51,389.4 v2 M238.31,533.4 v-2 M238.31,389.4 v2 M243.42,533.4 v-2 M243.42,389.4 v2 M248,533.4 v-4 M248,389.4 v4 M278.1,533.4 v-2 M278.1,389.4 v2 M48,389.4 h4 M288.8,389.4 h-4 M48,413.4 h2 M288.8,413.4 h-2 M48,437.4 h4 M288.8,437.4 h-4 M48,461.4 h2 M288.8,461.4 h-2 M48,485.4 h4 M288.8,485.4 h-4 M48,509.4 h2 M288.8,509.4 h-2 M48,533.4 h4 M288.8,533.4 h-4" stroke="#222222" stroke-width="1" fill="none"/>
<rect x="48" y="389.4" width="240.8" height="144" fill="none" stroke="#222222" stroke-width="1.6"/>
<text x="39.77" y="550.7" font-size="10.2" fill="#333333" stroke="#333333" stroke-width="0.12" textLength="10.97" lengthAdjust="spacingAndGlyphs">10</text>
<text x="50.45" y="546.7" font-size="7.4" fill="#333333" stroke="#333333" stroke-width="0.1" textLength="4.4" lengthAdjust="spacingAndGlyphs">0</text>
<text x="139.77" y="550.7" font-size="10.2" fill="#333333" stroke="#333333" stroke-width="0.12" textLength="10.97" lengthAdjust="spacingAndGlyphs">10</text>
<text x="150.85" y="546.7" font-size="7.4" fill="#333333" stroke="#333333" stroke-width="0.1" textLength="3.24" lengthAdjust="spacingAndGlyphs">1</text>
<text x="239.77" y="550.7" font-size="10.2" fill="#333333" stroke="#333333" stroke-width="0.12" textLength="10.97" lengthAdjust="spacingAndGlyphs">10</text>
<text x="250.38" y="546.7" font-size="7.4" fill="#333333" stroke="#333333" stroke-width="0.1" textLength="4.62" lengthAdjust="spacingAndGlyphs">2</text>
<text x="165.25" y="560.4" font-size="9.8" font-style="italic" fill="#333333" stroke="#333333" stroke-width="0.1" textLength="5.16" lengthAdjust="spacingAndGlyphs">k</text>
<text x="23.52" y="392.1" font-size="10.2" fill="#333333" stroke="#333333" stroke-width="0.12" textLength="10.4" lengthAdjust="spacingAndGlyphs">10</text>
<text x="33.64" y="387.9" font-size="7.2" fill="#333333" stroke="#333333" stroke-width="0.1" textLength="4.52" lengthAdjust="spacingAndGlyphs">0</text>
<text x="16.57" y="440.2" font-size="10.2" fill="#333333" stroke="#333333" stroke-width="0.12" textLength="10.97" lengthAdjust="spacingAndGlyphs">10</text>
<text x="27.55" y="436.8" font-size="7.2" fill="#333333" stroke="#333333" stroke-width="0.3" textLength="6.19" lengthAdjust="spacingAndGlyphs">&#8722;</text>
<text x="33.25" y="436.3" font-size="7.2" fill="#333333" stroke="#333333" stroke-width="0.1" textLength="5" lengthAdjust="spacingAndGlyphs">2</text>
<text x="16.57" y="488.2" font-size="10.2" fill="#333333" stroke="#333333" stroke-width="0.12" textLength="10.97" lengthAdjust="spacingAndGlyphs">10</text>
<text x="27.55" y="484.8" font-size="7.2" fill="#333333" stroke="#333333" stroke-width="0.3" textLength="6.19" lengthAdjust="spacingAndGlyphs">&#8722;</text>
<text x="33.53" y="484.3" font-size="7.2" fill="#333333" stroke="#333333" stroke-width="0.1" textLength="4.3" lengthAdjust="spacingAndGlyphs">4</text>
<text x="16.57" y="536.2" font-size="10.2" fill="#333333" stroke="#333333" stroke-width="0.12" textLength="10.97" lengthAdjust="spacingAndGlyphs">10</text>
<text x="27.55" y="532.8" font-size="7.2" fill="#333333" stroke="#333333" stroke-width="0.3" textLength="6.19" lengthAdjust="spacingAndGlyphs">&#8722;</text>
<text x="33.33" y="532.3" font-size="7.2" fill="#333333" stroke="#333333" stroke-width="0.1" textLength="4.65" lengthAdjust="spacingAndGlyphs">6</text>
<text transform="translate(10,461.4) rotate(-90)" x="-23.06" y="0" font-size="9.4" font-style="italic" fill="#333333" textLength="6.81" lengthAdjust="spacingAndGlyphs">k</text>
<text transform="translate(10,461.4) rotate(-90)" x="-15.08" y="-3.6" font-size="7.2" fill="#333333" stroke="#333333" stroke-width="0.1" textLength="4" lengthAdjust="spacingAndGlyphs">5</text>
<text transform="translate(10,461.4) rotate(-90)" x="-10.6" y="-3.6" font-size="7.2" fill="#333333" stroke="#333333" stroke-width="0.05" textLength="3.23" lengthAdjust="spacingAndGlyphs">/</text>
<text transform="translate(10,461.4) rotate(-90)" x="-6.95" y="-3.6" font-size="7.2" fill="#333333" stroke="#333333" stroke-width="0.1" textLength="3.86" lengthAdjust="spacingAndGlyphs">3</text>
<text transform="translate(10,461.4) rotate(-90)" x="-2.33" y="0" font-size="9.4" font-style="italic" fill="#333333" textLength="8.08" lengthAdjust="spacingAndGlyphs">P</text>
<text transform="translate(10,461.4) rotate(-90)" x="5.33" y="1.2" font-size="6.6" font-style="italic" fill="#333333" stroke="#333333" stroke-width="0.1" textLength="4.35" lengthAdjust="spacingAndGlyphs">&#961;</text>
<text transform="translate(10,461.4) rotate(-90)" x="8.91" y="0" font-size="9.6" fill="#333333" textLength="3.66" lengthAdjust="spacingAndGlyphs">(</text>
<text transform="translate(10,461.4) rotate(-90)" x="12.57" y="0" font-size="9.4" font-style="italic" fill="#333333" textLength="6.4" lengthAdjust="spacingAndGlyphs">k</text>
<text transform="translate(10,461.4) rotate(-90)" x="19.58" y="0" font-size="9.6" fill="#333333" textLength="3.59" lengthAdjust="spacingAndGlyphs">)</text>
<path d="M48.3,425.4 H287.8" stroke="#8c8c8c" stroke-width="1.3" stroke-dasharray="4,5.6"/>
<clipPath id="cp4"><rect x="48" y="389.4" width="240.8" height="144"/></clipPath>
<g clip-path="url(#cp4)">
<path d="M48,448 L78,433.4 L95.5,428.4 L108.3,424.8 L131.2,424.8 L144,423 L155,424.2 L156.5,424.06 L158,423.94 L159.5,423.85 L161,423.8 L162.5,423.77 L164,423.77 L165.5,423.81 L167,423.87 L168.5,423.96 L170,424.07 L171.5,424.22 L173,424.39 L174.5,424.6 L176,424.83 L177.5,425.08 L179,425.37 L180.5,425.68 L182,426.02 L183.5,426.38 L185,426.77 L186.5,427.19 L188,427.63 L189.5,428.1 L191,428.59 L192.5,429.11 L194,429.65 L195.5,430.22 L197,430.81 L198.5,431.43 L200,432.07 L201.5,432.73 L203,433.42 L204.5,434.13 L206,434.87 L207.5,435.63 L209,436.41 L210.5,437.21 L212,438.04 L213.5,438.89 L215,439.76 L216.5,440.65 L218,441.56 L219.5,442.5 L221,443.45 L222.5,444.43 L224,445.43 L225.5,446.45 L227,447.49 L228.5,448.54 L230,449.62 L231.5,450.72 L233,451.84 L234.5,452.97 L236,454.13 L237.5,455.3 L239,456.49 L240.5,457.7 L242,458.94 L243.5,460.19 L245,461.46 L246.5,462.76 L248,464.09 L249.5,465.43 L251,466.81 L252.5,468.21 L254,469.64 L255.5,471.09 L257,472.58 L258.5,474.1 L260,475.65 L261.5,477.23 L263,478.85 L264.5,480.49 L266,482.17 L267.5,483.87 L269,485.6 L270.5,487.36 L272,489.14 L273.5,490.94 L275,492.77 L276.5,494.62 L278,496.49 L279.5,498.37 L281,500.28 L282.5,502.19 L284,504.13 L285.5,506.08 L287,508.06 L288.5,510.06 L288.8,510.47" fill="none" stroke="#d21e23" stroke-width="1.6" stroke-linecap="butt" stroke-linejoin="round"/>
<path d="M48,446.8 L78,428.4 L95.5,424.8 L108.3,417.4 L129.4,416.5 L144,412.5 L155,412.8 L156.5,412.45 L158,412.11 L159.5,411.77 L161,411.45 L162.5,411.14 L164,410.84 L165.5,410.56 L167,410.29 L168.5,410.03 L170,409.78 L171.5,409.55 L173,409.33 L174.5,409.13 L176,408.94 L177.5,408.76 L179,408.6 L180.5,408.46 L182,408.33 L183.5,408.22 L185,408.13 L186.5,408.05 L188,407.99 L189.5,407.94 L191,407.92 L192.5,407.91 L194,407.92 L195.5,407.95 L197,408 L198.5,408.06 L200,408.15 L201.5,408.26 L203,408.39 L204.5,408.54 L206,408.7 L207.5,408.9 L209,409.11 L210.5,409.34 L212,409.6 L213.5,409.88 L215,410.18 L216.5,410.5 L218,410.85 L219.5,411.22 L221,411.62 L222.5,412.04 L224,412.48 L225.5,412.95 L227,413.45 L228.5,413.97 L230,414.52 L231.5,415.09 L233,415.69 L234.5,416.32 L236,416.97 L237.5,417.66 L239,418.37 L240.5,419.1 L242,419.87 L243.5,420.67 L245,421.49 L246.5,422.35 L248,423.23 L249.5,424.14 L251,425.08 L252.5,426.04 L254,427.03 L255.5,428.04 L257,429.08 L258.5,430.14 L260,431.22 L261.5,432.32 L263,433.44 L264.5,434.58 L266,435.74 L267.5,436.92 L269,438.12 L270.5,439.33 L272,440.55 L273.5,441.8 L275,443.05 L276.5,444.32 L278,445.6 L279.5,446.89 L281,448.19 L282.5,449.5 L284,450.82 L285.5,452.14 L287,453.48 L288.5,454.82 L288.8,455.08" fill="none" stroke="#22cc22" stroke-width="1.9" stroke-dasharray="1.9,3" stroke-linecap="butt" stroke-linejoin="round"/>
<path d="M48,451.4 L78,433.4 L87.2,434 L95.5,432.1 L100,427.5 L108.3,424.8 L131.2,424.8 L144,423 L155,425 L156.5,424.88 L158,424.8 L159.5,424.75 L161,424.73 L162.5,424.74 L164,424.78 L165.5,424.84 L167,424.92 L168.5,425.02 L170,425.14 L171.5,425.28 L173,425.43 L174.5,425.6 L176,425.78 L177.5,425.97 L179,426.16 L180.5,426.36 L182,426.57 L183.5,426.78 L185,426.99 L186.5,427.2 L188,427.41 L189.5,427.61 L191,427.81 L192.5,427.99 L194,428.17 L195.5,428.34 L197,428.49 L198.5,428.63 L200,428.75 L201.5,428.85 L203,428.93 L204.5,428.98 L206,429.02 L207.5,429.02 L209,429 L210.5,428.95 L212,428.86 L213.5,428.75 L215,428.61 L216.5,428.46 L218,428.28 L219.5,428.09 L221,427.9 L222.5,427.7 L224,427.5 L225.5,427.3 L227,427.11 L228.5,426.94 L230,426.78 L231.5,426.65 L233,426.54 L234.5,426.46 L236,426.42 L237.5,426.41 L239,426.45 L240.5,426.53 L242,426.66 L243.5,426.85 L245,427.08 L246.5,427.37 L248,427.71 L249.5,428.1 L251,428.55 L252.5,429.05 L254,429.61 L255.5,430.23 L257,430.9 L258.5,431.64 L260,432.43 L261.5,433.28 L263,434.19 L264.5,435.16 L266,436.18 L267.5,437.26 L269,438.38 L270.5,439.54 L272,440.75 L273.5,442 L275,443.27 L276.5,444.59 L278,445.93 L279.5,447.29 L281,448.68 L282.5,450.09 L284,451.51 L285.5,452.94 L287,454.39 L288.5,455.84 L288.8,456.13" fill="none" stroke="#2a2aaa" stroke-width="1.8" stroke-dasharray="11.5,4,2,4" stroke-linecap="butt" stroke-linejoin="round"/>
<path d="M48,448 L78,433.4 L95.5,428.4 L108.3,424.8 L131.2,424.8 L144,423 L155,424.2 L156.5,424.08 L158,423.99 L159.5,423.93 L161,423.9 L162.5,423.89 L164,423.91 L165.5,423.96 L167,424.04 L168.5,424.14 L170,424.26 L171.5,424.41 L173,424.59 L174.5,424.78 L176,425 L177.5,425.24 L179,425.5 L180.5,425.79 L182,426.09 L183.5,426.42 L185,426.76 L186.5,427.12 L188,427.5 L189.5,427.9 L191,428.31 L192.5,428.74 L194,429.19 L195.5,429.65 L197,430.12 L198.5,430.61 L200,431.12 L201.5,431.63 L203,432.16 L204.5,432.7 L206,433.25 L207.5,433.81 L209,434.38 L210.5,434.95 L212,435.52 L213.5,436.1 L215,436.67 L216.5,437.24 L218,437.8 L219.5,438.36 L221,438.91 L222.5,439.45 L224,439.97 L225.5,440.48 L227,440.98 L228.5,441.45 L230,441.91 L231.5,442.36 L233,442.8 L234.5,443.24 L236,443.68 L237.5,444.13 L239,444.58 L240.5,445.04 L242,445.53 L243.5,446.03 L245,446.55 L246.5,447.1 L248,447.68 L249.5,448.3 L251,448.95 L252.5,449.65 L254,450.4 L255.5,451.19 L257,452.04 L258.5,452.94 L260,453.88 L261.5,454.86 L263,455.89 L264.5,456.95 L266,458.04 L267.5,459.17 L269,460.33 L270.5,461.51 L272,462.71 L273.5,463.93 L275,465.17 L276.5,466.42 L278,467.68 L279.5,468.95 L281,470.23 L282.5,471.5 L284,472.78 L285.5,474.05 L287,475.31 L288.5,476.56 L288.8,476.81" fill="none" stroke="#dd22dd" stroke-width="1.8" stroke-dasharray="4,3.8,4,11.5" stroke-linecap="butt" stroke-linejoin="round"/>
<path d="M48,448 L78,433.4 L95.5,428.4 L108.3,424.8 L131.2,424.8 L144,423 L155,424.2 L156.5,424.14 L158,424.09 L159.5,424.06 L161,424.04 L162.5,424.04 L164,424.06 L165.5,424.09 L167,424.14 L168.5,424.21 L170,424.3 L171.5,424.41 L173,424.54 L174.5,424.69 L176,424.86 L177.5,425.06 L179,425.27 L180.5,425.51 L182,425.77 L183.5,426.06 L185,426.37 L186.5,426.71 L188,427.07 L189.5,427.46 L191,427.88 L192.5,428.33 L194,428.8 L195.5,429.3 L197,429.83 L198.5,430.4 L200,430.99 L201.5,431.61 L203,432.27 L204.5,432.96 L206,433.68 L207.5,434.43 L209,435.22 L210.5,436.03 L212,436.87 L213.5,437.74 L215,438.64 L216.5,439.55 L218,440.49 L219.5,441.44 L221,442.42 L222.5,443.41 L224,444.41 L225.5,445.42 L227,446.45 L228.5,447.48 L230,448.52 L231.5,449.57 L233,450.62 L234.5,451.67 L236,452.72 L237.5,453.77 L239,454.82 L240.5,455.87 L242,456.92 L243.5,457.98 L245,459.05 L246.5,460.13 L248,461.24 L249.5,462.37 L251,463.53 L252.5,464.72 L254,465.95 L255.5,467.22 L257,468.53 L258.5,469.88 L260,471.26 L261.5,472.68 L263,474.13 L264.5,475.61 L266,477.11 L267.5,478.63 L269,480.17 L270.5,481.73 L272,483.3 L273.5,484.88 L275,486.45 L276.5,488 L278,489.5 L279.5,490.96 L281,492.36 L282.5,493.67 L284,494.9 L285.5,496.02 L287,497.02 L288.5,497.88 L288.8,498.04" fill="none" stroke="#7c7c7c" stroke-width="1.45" stroke-dasharray="11.5,3.8,2,3.8,2,3.8" stroke-linecap="butt" stroke-linejoin="round"/>
<path d="M48,451.4 L78,433 L95.5,429.4 L108.3,423.9 L118.4,422 L129.4,422 L140.4,420.2 L155,419.8 L156.5,419.63 L158,419.5 L159.5,419.41 L161,419.36 L162.5,419.35 L164,419.36 L165.5,419.41 L167,419.49 L168.5,419.6 L170,419.72 L171.5,419.87 L173,420.04 L174.5,420.22 L176,420.42 L177.5,420.63 L179,420.85 L180.5,421.08 L182,421.33 L183.5,421.59 L185,421.88 L186.5,422.18 L188,422.51 L189.5,422.87 L191,423.25 L192.5,423.66 L194,424.1 L195.5,424.58 L197,425.09 L198.5,425.65 L200,426.24 L201.5,426.87 L203,427.55 L204.5,428.27 L206,429.04 L207.5,429.86 L209,430.72 L210.5,431.63 L212,432.58 L213.5,433.57 L215,434.59 L216.5,435.64 L218,436.72 L219.5,437.83 L221,438.96 L222.5,440.11 L224,441.28 L225.5,442.46 L227,443.65 L228.5,444.85 L230,446.05 L231.5,447.26 L233,448.47 L234.5,449.67 L236,450.87 L237.5,452.06 L239,453.24 L240.5,454.4 L242,455.57 L243.5,456.73 L245,457.89 L246.5,459.06 L248,460.25 L249.5,461.44 L251,462.66 L252.5,463.89 L254,465.15 L255.5,466.44 L257,467.77 L258.5,469.13 L260,470.53 L261.5,471.98 L263,473.47 L264.5,475 L266,476.56 L267.5,478.16 L269,479.77 L270.5,481.41 L272,483.06 L273.5,484.72 L275,486.39 L276.5,488.05 L278,489.71 L279.5,491.36 L281,492.99 L282.5,494.61 L284,496.19 L285.5,497.75 L287,499.27 L288.5,500.76 L288.8,501.05" fill="none" stroke="#111111" stroke-width="1.9" stroke-dasharray="7.8,3.9" stroke-linecap="butt" stroke-linejoin="round"/>
</g>
<path d="M65,450.8 h39" fill="none" stroke="#d21e23" stroke-width="1.6"/>
<path d="M65,465.1 h39" fill="none" stroke="#22cc22" stroke-width="1.9" stroke-dasharray="1.9,3"/>
<path d="M65,479.4 h39" fill="none" stroke="#2a2aaa" stroke-width="1.8" stroke-dasharray="11.5,4,2,4"/>
<path d="M65,493.8 h39" fill="none" stroke="#dd22dd" stroke-width="1.8" stroke-dasharray="4,3.8,4,11.5"/>
<path d="M65,508.1 h39" fill="none" stroke="#7c7c7c" stroke-width="1.45" stroke-dasharray="11.5,3.8,2,3.8,2,3.8" stroke-dashoffset="21.1"/>
<path d="M65,522.2 h39" fill="none" stroke="#111111" stroke-width="1.9" stroke-dasharray="7.8,3.9"/>
<text x="112.79" y="453.5" font-size="9.7" font-weight="bold" fill="#2a2a2a" textLength="17.85" lengthAdjust="spacingAndGlyphs">A1:</text>
<text x="135.22" y="453.5" font-size="9.3" font-style="italic" fill="#6c6c6c" textLength="7.32" lengthAdjust="spacingAndGlyphs">&#946;</text>
<text x="142.19" y="454.7" font-size="6.3" fill="#505050" textLength="3.93" lengthAdjust="spacingAndGlyphs">0</text>
<text x="148.93" y="453.5" font-size="9.3" fill="#505050" textLength="7.52" lengthAdjust="spacingAndGlyphs">=</text>
<text x="160.35" y="453.5" font-size="9.3" fill="#505050" textLength="15.05" lengthAdjust="spacingAndGlyphs">200</text>
<text x="175.68" y="453.5" font-size="9.3" fill="#505050" textLength="3.53" lengthAdjust="spacingAndGlyphs">,</text>
<text x="182.74" y="453.5" font-size="9.3" font-style="italic" fill="#6c6c6c" textLength="4.75" lengthAdjust="spacingAndGlyphs">&#957;</text>
<text x="187.39" y="454.9" font-size="6.9" font-style="italic" fill="#606060" textLength="5.26" lengthAdjust="spacingAndGlyphs">S</text>
<text x="197.22" y="453.5" font-size="9.3" fill="#505050" textLength="7.64" lengthAdjust="spacingAndGlyphs">=</text>
<text x="208.2" y="453.5" font-size="9.9" fill="#505050" textLength="11.14" lengthAdjust="spacingAndGlyphs">&#8734;</text>
<text x="112.79" y="467.8" font-size="9.7" font-weight="bold" fill="#2a2a2a" textLength="17.85" lengthAdjust="spacingAndGlyphs">A2:</text>
<text x="135.22" y="467.8" font-size="9.3" font-style="italic" fill="#6c6c6c" textLength="7.32" lengthAdjust="spacingAndGlyphs">&#946;</text>
<text x="142.19" y="469" font-size="6.3" fill="#505050" textLength="3.93" lengthAdjust="spacingAndGlyphs">0</text>
<text x="148.93" y="467.8" font-size="9.3" fill="#505050" textLength="7.52" lengthAdjust="spacingAndGlyphs">=</text>
<text x="160.35" y="467.8" font-size="9.3" fill="#505050" textLength="15.05" lengthAdjust="spacingAndGlyphs">200</text>
<text x="175.68" y="467.8" font-size="9.3" fill="#505050" textLength="3.53" lengthAdjust="spacingAndGlyphs">,</text>
<text x="182.74" y="467.8" font-size="9.3" font-style="italic" fill="#6c6c6c" textLength="4.75" lengthAdjust="spacingAndGlyphs">&#957;</text>
<text x="187.39" y="469.2" font-size="6.9" font-style="italic" fill="#606060" textLength="5.26" lengthAdjust="spacingAndGlyphs">S</text>
<text x="197.22" y="467.8" font-size="9.3" fill="#505050" textLength="7.64" lengthAdjust="spacingAndGlyphs">=</text>
<text x="208.55" y="467.8" font-size="9.3" fill="#505050" textLength="5.6" lengthAdjust="spacingAndGlyphs">0</text>
<text x="112.79" y="482.1" font-size="9.7" font-weight="bold" fill="#2a2a2a" textLength="17.85" lengthAdjust="spacingAndGlyphs">A3:</text>
<text x="135.22" y="482.1" font-size="9.3" font-style="italic" fill="#6c6c6c" textLength="7.32" lengthAdjust="spacingAndGlyphs">&#946;</text>
<text x="142.19" y="483.3" font-size="6.3" fill="#505050" textLength="3.93" lengthAdjust="spacingAndGlyphs">0</text>
<text x="148.93" y="482.1" font-size="9.3" fill="#505050" textLength="7.52" lengthAdjust="spacingAndGlyphs">=</text>
<text x="160.35" y="482.1" font-size="9.3" fill="#505050" textLength="15.05" lengthAdjust="spacingAndGlyphs">200</text>
<text x="175.68" y="482.1" font-size="9.3" fill="#505050" textLength="3.53" lengthAdjust="spacingAndGlyphs">,</text>
<text x="182.74" y="482.1" font-size="9.3" font-style="italic" fill="#6c6c6c" textLength="4.75" lengthAdjust="spacingAndGlyphs">&#957;</text>
<text x="187.39" y="483.5" font-size="6.9" font-style="italic" fill="#606060" textLength="5.26" lengthAdjust="spacingAndGlyphs">S</text>
<text x="197.22" y="482.1" font-size="9.3" fill="#505050" textLength="7.64" lengthAdjust="spacingAndGlyphs">=</text>
<text x="207.9" y="482.1" font-size="9.3" fill="#505050" textLength="10" lengthAdjust="spacingAndGlyphs">10</text>
<text x="217.61" y="478.5" font-size="6.6" fill="#505050" textLength="5.21" lengthAdjust="spacingAndGlyphs">1</text>
<text x="112.79" y="496.5" font-size="9.7" font-weight="bold" fill="#2a2a2a" textLength="17.85" lengthAdjust="spacingAndGlyphs">A4:</text>
<text x="135.22" y="496.5" font-size="9.3" font-style="italic" fill="#6c6c6c" textLength="7.32" lengthAdjust="spacingAndGlyphs">&#946;</text>
<text x="142.19" y="497.7" font-size="6.3" fill="#505050" textLength="3.93" lengthAdjust="spacingAndGlyphs">0</text>
<text x="148.93" y="496.5" font-size="9.3" fill="#505050" textLength="7.52" lengthAdjust="spacingAndGlyphs">=</text>
<text x="160.35" y="496.5" font-size="9.3" fill="#505050" textLength="15.05" lengthAdjust="spacingAndGlyphs">200</text>
<text x="175.68" y="496.5" font-size="9.3" fill="#505050" textLength="3.53" lengthAdjust="spacingAndGlyphs">,</text>
<text x="182.74" y="496.5" font-size="9.3" font-style="italic" fill="#6c6c6c" textLength="4.75" lengthAdjust="spacingAndGlyphs">&#957;</text>
<text x="187.39" y="497.9" font-size="6.9" font-style="italic" fill="#606060" textLength="5.26" lengthAdjust="spacingAndGlyphs">S</text>
<text x="197.22" y="496.5" font-size="9.3" fill="#505050" textLength="7.64" lengthAdjust="spacingAndGlyphs">=</text>
<text x="207.9" y="496.5" font-size="9.3" fill="#505050" textLength="10" lengthAdjust="spacingAndGlyphs">10</text>
<text x="218.08" y="492.9" font-size="6.6" fill="#505050" textLength="4.62" lengthAdjust="spacingAndGlyphs">2</text>
<text x="112.79" y="510.8" font-size="9.7" font-weight="bold" fill="#2a2a2a" textLength="17.85" lengthAdjust="spacingAndGlyphs">A5:</text>
<text x="135.22" y="510.8" font-size="9.3" font-style="italic" fill="#6c6c6c" textLength="7.32" lengthAdjust="spacingAndGlyphs">&#946;</text>
<text x="142.19" y="512" font-size="6.3" fill="#505050" textLength="3.93" lengthAdjust="spacingAndGlyphs">0</text>
<text x="148.93" y="510.8" font-size="9.3" fill="#505050" textLength="7.52" lengthAdjust="spacingAndGlyphs">=</text>
<text x="160.35" y="510.8" font-size="9.3" fill="#505050" textLength="15.05" lengthAdjust="spacingAndGlyphs">200</text>
<text x="175.68" y="510.8" font-size="9.3" fill="#505050" textLength="3.53" lengthAdjust="spacingAndGlyphs">,</text>
<text x="182.74" y="510.8" font-size="9.3" font-style="italic" fill="#6c6c6c" textLength="4.75" lengthAdjust="spacingAndGlyphs">&#957;</text>
<text x="187.39" y="512.2" font-size="6.9" font-style="italic" fill="#606060" textLength="5.26" lengthAdjust="spacingAndGlyphs">S</text>
<text x="197.22" y="510.8" font-size="9.3" fill="#505050" textLength="7.64" lengthAdjust="spacingAndGlyphs">=</text>
<text x="207.9" y="510.8" font-size="9.3" fill="#505050" textLength="10" lengthAdjust="spacingAndGlyphs">10</text>
<text x="218.1" y="507.2" font-size="6.6" fill="#505050" textLength="4.46" lengthAdjust="spacingAndGlyphs">3</text>
<text x="112.79" y="524.9" font-size="9.7" font-weight="bold" fill="#2a2a2a" textLength="34.19" lengthAdjust="spacingAndGlyphs">Amhd:</text>
<text x="152.22" y="524.9" font-size="9.3" font-style="italic" fill="#6c6c6c" textLength="7.32" lengthAdjust="spacingAndGlyphs">&#946;</text>
<text x="159.21" y="526.1" font-size="6.3" fill="#505050" textLength="3.57" lengthAdjust="spacingAndGlyphs">0</text>
<text x="165.55" y="524.9" font-size="9.3" fill="#505050" textLength="7.28" lengthAdjust="spacingAndGlyphs">=</text>
<text x="176.22" y="524.9" font-size="9.3" fill="#505050" textLength="15.9" lengthAdjust="spacingAndGlyphs">200</text>
<path d="M358,533.4 v-4 M358,389.4 v4 M388.1,533.4 v-2 M388.1,389.4 v2 M405.71,533.4 v-2 M405.71,389.4 v2 M418.21,533.4 v-2 M418.21,389.4 v2 M427.9,533.4 v-2 M427.9,389.4 v2 M435.82,533.4 v-2 M435.82,389.4 v2 M442.51,533.4 v-2 M442.51,389.4 v2 M448.31,533.4 v-2 M448.31,389.4 v2 M453.42,533.4 v-2 M453.42,389.4 v2 M458,533.4 v-4 M458,389.4 v4 M488.1,533.4 v-2 M488.1,389.4 v2 M505.71,533.4 v-2 M505.71,389.4 v2 M518.21,533.4 v-2 M518.21,389.4 v2 M527.9,533.4 v-2 M527.9,389.4 v2 M535.82,533.4 v-2 M535.82,389.4 v2 M542.51,533.4 v-2 M542.51,389.4 v2 M548.31,533.4 v-2 M548.31,389.4 v2 M553.42,533.4 v-2 M553.42,389.4 v2 M558,533.4 v-4 M558,389.4 v4 M588.1,533.4 v-2 M588.1,389.4 v2 M358,389.4 h4 M598.8,389.4 h-4 M358,413.4 h2 M598.8,413.4 h-2 M358,437.4 h4 M598.8,437.4 h-4 M358,461.4 h2 M598.8,461.4 h-2 M358,485.4 h4 M598.8,485.4 h-4 M358,509.4 h2 M598.8,509.4 h-2 M358,533.4 h4 M598.8,533.4 h-4" stroke="#222222" stroke-width="1" fill="none"/>
<rect x="358" y="389.4" width="240.8" height="144" fill="none" stroke="#222222" stroke-width="1.6"/>
<text x="349.77" y="550.7" font-size="10.2" fill="#333333" stroke="#333333" stroke-width="0.12" textLength="10.97" lengthAdjust="spacingAndGlyphs">10</text>
<text x="360.45" y="546.7" font-size="7.4" fill="#333333" stroke="#333333" stroke-width="0.1" textLength="4.4" lengthAdjust="spacingAndGlyphs">0</text>
<text x="449.77" y="550.7" font-size="10.2" fill="#333333" stroke="#333333" stroke-width="0.12" textLength="10.97" lengthAdjust="spacingAndGlyphs">10</text>
<text x="460.85" y="546.7" font-size="7.4" fill="#333333" stroke="#333333" stroke-width="0.1" textLength="3.24" lengthAdjust="spacingAndGlyphs">1</text>
<text x="549.77" y="550.7" font-size="10.2" fill="#333333" stroke="#333333" stroke-width="0.12" textLength="10.97" lengthAdjust="spacingAndGlyphs">10</text>
<text x="560.38" y="546.7" font-size="7.4" fill="#333333" stroke="#333333" stroke-width="0.1" textLength="4.63" lengthAdjust="spacingAndGlyphs">2</text>
<text x="475.25" y="560.4" font-size="9.8" font-style="italic" fill="#333333" stroke="#333333" stroke-width="0.1" textLength="5.16" lengthAdjust="spacingAndGlyphs">k</text>
<text x="333.52" y="392.1" font-size="10.2" fill="#333333" stroke="#333333" stroke-width="0.12" textLength="10.4" lengthAdjust="spacingAndGlyphs">10</text>
<text x="343.64" y="387.9" font-size="7.2" fill="#333333" stroke="#333333" stroke-width="0.1" textLength="4.52" lengthAdjust="spacingAndGlyphs">0</text>
<text x="326.57" y="440.2" font-size="10.2" fill="#333333" stroke="#333333" stroke-width="0.12" textLength="10.97" lengthAdjust="spacingAndGlyphs">10</text>
<text x="337.55" y="436.8" font-size="7.2" fill="#333333" stroke="#333333" stroke-width="0.3" textLength="6.19" lengthAdjust="spacingAndGlyphs">&#8722;</text>
<text x="343.25" y="436.3" font-size="7.2" fill="#333333" stroke="#333333" stroke-width="0.1" textLength="5" lengthAdjust="spacingAndGlyphs">2</text>
<text x="326.57" y="488.2" font-size="10.2" fill="#333333" stroke="#333333" stroke-width="0.12" textLength="10.97" lengthAdjust="spacingAndGlyphs">10</text>
<text x="337.55" y="484.8" font-size="7.2" fill="#333333" stroke="#333333" stroke-width="0.3" textLength="6.19" lengthAdjust="spacingAndGlyphs">&#8722;</text>
<text x="343.53" y="484.3" font-size="7.2" fill="#333333" stroke="#333333" stroke-width="0.1" textLength="4.3" lengthAdjust="spacingAndGlyphs">4</text>
<text x="326.57" y="536.2" font-size="10.2" fill="#333333" stroke="#333333" stroke-width="0.12" textLength="10.97" lengthAdjust="spacingAndGlyphs">10</text>
<text x="337.55" y="532.8" font-size="7.2" fill="#333333" stroke="#333333" stroke-width="0.3" textLength="6.19" lengthAdjust="spacingAndGlyphs">&#8722;</text>
<text x="343.33" y="532.3" font-size="7.2" fill="#333333" stroke="#333333" stroke-width="0.1" textLength="4.65" lengthAdjust="spacingAndGlyphs">6</text>
<text transform="translate(320,461.4) rotate(-90)" x="-23.06" y="0" font-size="9.4" font-style="italic" fill="#333333" textLength="6.81" lengthAdjust="spacingAndGlyphs">k</text>
<text transform="translate(320,461.4) rotate(-90)" x="-15.08" y="-3.6" font-size="7.2" fill="#333333" stroke="#333333" stroke-width="0.1" textLength="4" lengthAdjust="spacingAndGlyphs">5</text>
<text transform="translate(320,461.4) rotate(-90)" x="-10.6" y="-3.6" font-size="7.2" fill="#333333" stroke="#333333" stroke-width="0.05" textLength="3.23" lengthAdjust="spacingAndGlyphs">/</text>
<text transform="translate(320,461.4) rotate(-90)" x="-6.95" y="-3.6" font-size="7.2" fill="#333333" stroke="#333333" stroke-width="0.1" textLength="3.86" lengthAdjust="spacingAndGlyphs">3</text>
<text transform="translate(320,461.4) rotate(-90)" x="-2.33" y="0" font-size="9.4" font-style="italic" fill="#333333" textLength="8.08" lengthAdjust="spacingAndGlyphs">P</text>
<text transform="translate(320,461.4) rotate(-90)" x="5.33" y="1.2" font-size="6.6" font-style="italic" fill="#333333" stroke="#333333" stroke-width="0.1" textLength="4.35" lengthAdjust="spacingAndGlyphs">&#961;</text>
<text transform="translate(320,461.4) rotate(-90)" x="8.91" y="0" font-size="9.6" fill="#333333" textLength="3.66" lengthAdjust="spacingAndGlyphs">(</text>
<text transform="translate(320,461.4) rotate(-90)" x="12.57" y="0" font-size="9.4" font-style="italic" fill="#333333" textLength="6.4" lengthAdjust="spacingAndGlyphs">k</text>
<text transform="translate(320,461.4) rotate(-90)" x="19.58" y="0" font-size="9.6" fill="#333333" textLength="3.59" lengthAdjust="spacingAndGlyphs">)</text>
<path d="M358.3,425.4 H597.8" stroke="#8c8c8c" stroke-width="1.3" stroke-dasharray="4,5.6"/>
<clipPath id="cp5"><rect x="358" y="389.4" width="240.8" height="144"/></clipPath>
<g clip-path="url(#cp5)">
<path d="M358,455.8 L388,416.25 L406,428.8 L418,421.75 L427.75,420 L436,423.7 L443.5,422.2 L452.5,421.5 L460,423.25 L469,423.7 L478,425.5 L479.5,425.93 L481,426.38 L482.5,426.86 L484,427.35 L485.5,427.86 L487,428.4 L488.5,428.95 L490,429.52 L491.5,430.11 L493,430.72 L494.5,431.36 L496,432.01 L497.5,432.67 L499,433.36 L500.5,434.07 L502,434.8 L503.5,435.54 L505,436.31 L506.5,437.09 L508,437.89 L509.5,438.71 L511,439.54 L512.5,440.4 L514,441.27 L515.5,442.16 L517,443.07 L518.5,444 L520,444.94 L521.5,445.9 L523,446.88 L524.5,447.88 L526,448.89 L527.5,449.92 L529,450.97 L530.5,452.03 L532,453.11 L533.5,454.21 L535,455.32 L536.5,456.45 L538,457.6 L539.5,458.76 L541,459.94 L542.5,461.13 L544,462.34 L545.5,463.57 L547,464.81 L548.5,466.07 L550,467.34 L551.5,468.63 L553,469.93 L554.5,471.25 L556,472.58 L557.5,473.93 L559,475.29 L560.5,476.68 L562,478.08 L563.5,479.51 L565,480.95 L566.5,482.42 L568,483.91 L569.5,485.43 L571,486.98 L572.5,488.55 L574,490.15 L575.5,491.79 L577,493.45 L578.5,495.15 L580,496.88 L581.5,498.65 L583,500.45 L584.5,502.29 L586,504.17 L587.5,506.09 L589,508.05 L590.5,510.06 L592,512.11 L593.5,514.2 L595,516.34 L596.5,518.53 L598,520.76 L598.8,521.97" fill="none" stroke="#d21e23" stroke-width="1.9" stroke-linecap="butt" stroke-linejoin="round"/>
<path d="M358,447.5 L388,411.7 L406,420.7 L418,415 L427,414 L434.5,415 L452.5,415 L463,416.2 L475,417.7 L476.5,418.06 L478,418.46 L479.5,418.89 L481,419.35 L482.5,419.84 L484,420.36 L485.5,420.9 L487,421.48 L488.5,422.08 L490,422.72 L491.5,423.38 L493,424.06 L494.5,424.78 L496,425.52 L497.5,426.29 L499,427.08 L500.5,427.9 L502,428.75 L503.5,429.62 L505,430.52 L506.5,431.44 L508,432.39 L509.5,433.36 L511,434.35 L512.5,435.37 L514,436.41 L515.5,437.48 L517,438.57 L518.5,439.68 L520,440.81 L521.5,441.97 L523,443.14 L524.5,444.34 L526,445.56 L527.5,446.8 L529,448.06 L530.5,449.34 L532,450.64 L533.5,451.96 L535,453.3 L536.5,454.66 L538,456.03 L539.5,457.43 L541,458.84 L542.5,460.27 L544,461.72 L545.5,463.19 L547,464.67 L548.5,466.17 L550,467.69 L551.5,469.22 L553,470.77 L554.5,472.33 L556,473.91 L557.5,475.51 L559,477.11 L560.5,478.74 L562,480.37 L563.5,482.02 L565,483.69 L566.5,485.37 L568,487.06 L569.5,488.76 L571,490.48 L572.5,492.21 L574,493.96 L575.5,495.71 L577,497.48 L578.5,499.26 L580,501.05 L581.5,502.86 L583,504.67 L584.5,506.5 L586,508.34 L587.5,510.19 L589,512.05 L590.5,513.93 L592,515.81 L593.5,517.7 L595,519.61 L596.5,521.52 L598,523.45 L598.8,524.48" fill="none" stroke="#111111" stroke-width="1.9" stroke-dasharray="7.8,3.9" stroke-linecap="butt" stroke-linejoin="round"/>
</g>
<path d="M375,507.9 h39" fill="none" stroke="#d21e23" stroke-width="1.9"/>
<path d="M375,522.2 h39" fill="none" stroke="#111111" stroke-width="1.9" stroke-dasharray="7.8,3.9"/>
<text x="422.81" y="510.6" font-size="9.7" font-weight="bold" fill="#2a2a2a" textLength="18.82" lengthAdjust="spacingAndGlyphs">B1:</text>
<text x="447.19" y="510.6" font-size="9.3" font-style="italic" fill="#6c6c6c" textLength="6.35" lengthAdjust="spacingAndGlyphs">&#946;</text>
<text x="453.17" y="511.8" font-size="6.3" fill="#505050" textLength="4.17" lengthAdjust="spacingAndGlyphs">0</text>
<text x="461.3" y="510.6" font-size="9.3" fill="#505050" textLength="7.88" lengthAdjust="spacingAndGlyphs">=</text>
<text x="472.55" y="510.6" font-size="9.3" fill="#505050" textLength="14.07" lengthAdjust="spacingAndGlyphs">0.2</text>
<text x="487.31" y="510.6" font-size="9.3" fill="#505050" textLength="4.31" lengthAdjust="spacingAndGlyphs">,</text>
<text x="495.33" y="510.6" font-size="9.3" font-style="italic" fill="#6c6c6c" textLength="5.16" lengthAdjust="spacingAndGlyphs">&#957;</text>
<text x="500.41" y="512" font-size="6.9" font-style="italic" fill="#606060" textLength="4.74" lengthAdjust="spacingAndGlyphs">S</text>
<text x="510.8" y="510.6" font-size="9.3" fill="#505050" textLength="7.88" lengthAdjust="spacingAndGlyphs">=</text>
<text x="521.43" y="510.6" font-size="9.9" fill="#505050" textLength="11.7" lengthAdjust="spacingAndGlyphs">&#8734;</text>
<text x="422.81" y="524.9" font-size="9.7" font-weight="bold" fill="#2a2a2a" textLength="37.34" lengthAdjust="spacingAndGlyphs">Bmhd:</text>
<text x="466.21" y="524.9" font-size="9.3" font-style="italic" fill="#6c6c6c" textLength="6.84" lengthAdjust="spacingAndGlyphs">&#946;</text>
<text x="472.62" y="526.1" font-size="6.3" fill="#505050" textLength="4.76" lengthAdjust="spacingAndGlyphs">0</text>
<text x="479.35" y="524.9" font-size="9.3" fill="#505050" textLength="7.28" lengthAdjust="spacingAndGlyphs">=</text>
<text x="489.48" y="524.9" font-size="9.3" fill="#505050" textLength="16.23" lengthAdjust="spacingAndGlyphs">0.2</text>
</svg></body></html>
